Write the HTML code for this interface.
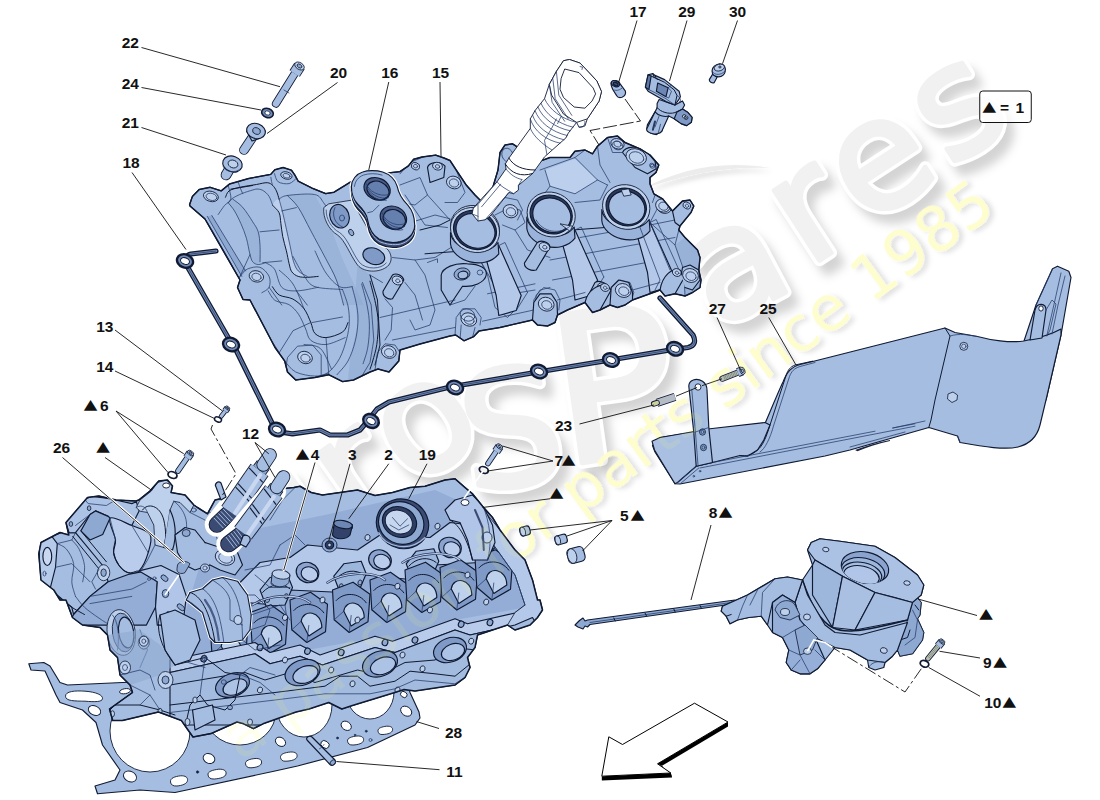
<!DOCTYPE html>
<html><head><meta charset="utf-8"><title>Cylinder head diagram</title>
<style>
html,body{margin:0;padding:0;background:#fff}
body{width:1100px;height:800px;overflow:hidden;font-family:"Liberation Sans",sans-serif}
svg{display:block}
.f{fill:#a5bde0;stroke:#101a33;stroke-width:1.15;stroke-linejoin:round;stroke-linecap:round}
.fd{fill:#8ea9d1;stroke:#101a33;stroke-width:.8;stroke-linejoin:round}
.fl{fill:#bdd0ec;stroke:#101a33;stroke-width:.8;stroke-linejoin:round}
.w{fill:#fff;stroke:#101a33;stroke-width:.9;stroke-linejoin:round}
.nd{fill:#8ea9d1;stroke:none}
.nl{fill:#bcd0ed;stroke:none}
.nk{fill:#5f7aa8;stroke:none}
.l{fill:none;stroke:#263b68;stroke-width:.75;stroke-linecap:round;stroke-linejoin:round}
.l2{fill:none;stroke:#101a33;stroke-width:1;stroke-linecap:round;stroke-linejoin:round}
.ld{fill:none;stroke:#111;stroke-width:.9}
.wl{fill:none;stroke:#fff;stroke-width:2.4;stroke-linecap:round}
.t{font:bold 15.5px "Liberation Sans",sans-serif;fill:#111}
.tr{font:13px "DejaVu Sans",sans-serif;fill:#111}
</style></head><body>
<svg width="1100" height="800" viewBox="0 0 1100 800">
<rect width="1100" height="800" fill="#fff"/>
<g id="wm_under">
<defs>
<filter id="wsh" x="-30%" y="-30%" width="160%" height="160%"><feGaussianBlur in="SourceAlpha" stdDeviation="5"/><feOffset dx="8" dy="10" result="b"/><feFlood flood-color="#000" flood-opacity=".17"/><feComposite in2="b" operator="in"/></filter>
<filter id="ysh" x="-5%" y="-30%" width="110%" height="160%"><feGaussianBlur in="SourceAlpha" stdDeviation="2.5"/><feOffset dx="3" dy="4" result="b"/><feFlood flood-color="#000" flood-opacity=".13"/><feComposite in2="b" operator="in" result="s"/><feMerge><feMergeNode in="s"/><feMergeNode in="SourceGraphic"/></feMerge></filter>
</defs>
<text x="184.3 269.1 354.9 412.7 468.8 562.2 715.4 808.0 865.5 949.5" y="648.9 589.5 529.4 488.7 491.8 465.6 329.6 267.8 226.6 167.8" rotate="-35 -35 -35 -35 -8 -8 -28 -33 -33 -33" style="font:152px 'DejaVu Sans',sans-serif;stroke-linejoin:round" filter="url(#wsh)" fill="#000" stroke="#000" stroke-width="11">euro<tspan font-size="160">S</tspan><tspan font-size="205">P</tspan>ares</text>
<text x="184.3 269.1 354.9 412.7 468.8 562.2 715.4 808.0 865.5 949.5" y="648.9 589.5 529.4 488.7 491.8 465.6 329.6 267.8 226.6 167.8" rotate="-35 -35 -35 -35 -8 -8 -28 -33 -33 -33" style="font:152px 'DejaVu Sans',sans-serif;stroke-linejoin:round" fill="#fff" stroke="#fff" stroke-width="12">euro<tspan font-size="160">S</tspan><tspan font-size="205">P</tspan>ares</text>
<text x="184.3 269.1 354.9 412.7 468.8 562.2 715.4 808.0 865.5 949.5" y="648.9 589.5 529.4 488.7 491.8 465.6 329.6 267.8 226.6 167.8" rotate="-35 -35 -35 -35 -8 -8 -28 -33 -33 -33" style="font:152px 'DejaVu Sans',sans-serif;stroke-linejoin:round" fill="#f1f1f1" stroke="#f1f1f1" stroke-width="5">euro<tspan font-size="160">S</tspan><tspan font-size="205">P</tspan>ares</text>
<path d="M640 190C680 168 725 160 770 168C728 166 685 174 640 190Z" fill="#ececec" filter="url(#ysh)"/>
<g transform="translate(240.6 762) rotate(-36)"><text x="0" y="0" filter="url(#ysh)" style="font:62px 'DejaVu Sans',sans-serif" fill="#fefdd9">a passion for parts since 1985</text></g>
</g>
<g id="headgasket">
<path d="M28.8 663.8L43.8 662.5L50 666L60 682.5L67.5 685L122.5 682.5L200 680L300 670L400 650L410 692.5L419 712L420 718L415 725L367.5 747.5L297.5 766L275 771L175 792.5L140 790L97.5 793.8L95 786L115 780L120 770L102.5 745L96 722.5L82.5 710L60 702.5L56 695L45 671L31 670Z" class="f"/>
<ellipse cx="150" cy="731" rx="40" ry="41" class="w"/>
<ellipse cx="240" cy="711" rx="36" ry="34" class="w"/>
<ellipse cx="304" cy="705" rx="28" ry="32" class="w"/>
<ellipse cx="370" cy="692" rx="24" ry="27" class="w"/>
<path d="M65.5 696.2C65.5 691.2 75 690.5 85 691.2C96.2 692 103 695 102.5 698.8C102 702 95 702 85 701.2C75 701 65.5 701.2 65.5 696.2Z" class="w"/>
<ellipse cx="94.5" cy="710.5" rx="6.5" ry="4.5" transform="rotate(25 94.5 710.5)" class="w"/>
<ellipse cx="130" cy="776.5" rx="6.8" ry="5.2" transform="rotate(25 130 776.5)" class="w"/>
<path d="M170.5 782C170 778 175 776.5 180.5 775.8C185.5 775.5 188 777.5 187.5 780.5C187 784 182 785.5 177 786C173 786.2 171 785 170.5 782Z" class="w"/>
<ellipse cx="209" cy="758.5" rx="6" ry="4.8" transform="rotate(25 209 758.5)" class="w"/>
<path d="M208 775C207.5 771.5 212.5 770 218.8 769.2C224.5 769 226.5 771 226 774C225.5 777 220.5 778.5 214.5 779C210.5 779.2 208.5 778 208 775Z" class="w"/>
<path d="M245.5 763.8C245 760.5 250 759 255 758.5C260 758.2 262 760 261.5 763C261 766 256.5 767.5 251 767.8C247.5 768 246 766.5 245.5 763.8Z" class="w"/>
<ellipse cx="197.5" cy="772" rx="1.2" ry="1.2" class="l" style="fill:#101a33;"/>
<ellipse cx="125" cy="691.2" rx="5.5" ry="2.5" transform="rotate(-10 125 691.2)" class="w"/>
<ellipse cx="280.5" cy="741.8" rx="5.5" ry="4.2" transform="rotate(35 280.5 741.8)" class="w"/>
<path d="M280.5 757.5C280 754 285 752.5 290.5 752C295.5 751.8 297.5 753.5 297 756.5C296.5 759.5 291.5 761 286 761.2C282.5 761.5 281 760 280.5 757.5Z" class="w"/>
<ellipse cx="346.2" cy="725.8" rx="5.5" ry="4.2" transform="rotate(35 346.2 725.8)" class="w"/>
<path d="M347.5 741.2C347 738 352 736.5 357 736C362 735.8 364 737.5 363.5 740.5C363 743.2 358.5 744.8 353 745C349.5 745.2 348 743.8 347.5 741.2Z" class="w"/>
<path d="M378 731.2C377.5 728 382 726.8 386.5 726.2C391 726 393 727.5 392.5 730.2C392 733 388 734.2 383 734.5C379.5 734.8 378.5 733.5 378 731.2Z" class="w"/>
<ellipse cx="406.2" cy="711.2" rx="6" ry="4.5" transform="rotate(35 406.2 711.2)" class="w"/>
<ellipse cx="403.8" cy="694.5" rx="3.5" ry="2.8" transform="rotate(35 403.8 694.5)" class="w"/>
<ellipse cx="325" cy="744.5" rx="4.5" ry="3.5" transform="rotate(35 325 744.5)" class="w"/>
<ellipse cx="337.5" cy="738" rx="1" ry="1" class="l" style="fill:#101a33;"/>
<ellipse cx="366.2" cy="731.2" rx="1" ry="1" class="l" style="fill:#101a33;"/>
<ellipse cx="370.5" cy="740" rx="1.5" ry="1.5" class="l"/>
<ellipse cx="355" cy="735" rx="0.8" ry="0.8" class="l" style="fill:#101a33;"/>
<path d="M307 740C305.5 737.5 309.5 735 312 737L335 760C337 763 332.5 767 330 764.5Z" class="f"/>
<path d="M319.5 748.8C321.5 747.5 323 746 324 744.5" class="l"/>
<ellipse cx="332.8" cy="762.5" rx="3" ry="2.2" transform="rotate(-45 332.8 762.5)" class="fd"/>
</g>
<g id="head">
<path d="M38.8 553.8L41 542.5L60 532.5L68.8 535L66 522.5L87.5 497.5L98.8 496L116 500L136 501L138.8 500L150 491L158.8 481L167.5 480L172.5 486L171 492.5L185 495L193.8 505L197.5 507.5L207.5 513.8L215 500L250 492L293.8 487.5L300 486.2L311.2 492.5L322.5 495L357.5 490L375 495.5L392.5 492.5L410 487.5L425 486.2L445 480L455 478.8L465 487.5L472.5 493.8L482.5 506.2L492.5 517.5L500 530L515 550L525 560L532.5 580L537.5 600L540 600L542.5 610L537.5 617.5L530 625L515 630L507.5 625L477.5 635L475 647.5L467.5 657.5L470 667.5L465 677.5L455 685L415 691L404 689.5L394 692.7L351.6 705.8L341.8 709L328.7 702.5L309 709L296 712L263 723.8L253.4 728.7L243.6 723.8L237 722L211 733.6L193 737L188 730L181.4 720.5L158.5 712L122.5 720.5L112.7 720.5L109.5 709L132.5 692.5L130 685L120 675L117.5 657.5L110 650L107.5 635L100 627.5L82.5 625L72.5 617.5L66 600L60 600L53.8 590L41 580Z" class="f"/>
<clipPath id="hclip"><path d="M38.8 553.8L41 542.5L60 532.5L68.8 535L66 522.5L87.5 497.5L98.8 496L116 500L136 501L138.8 500L150 491L158.8 481L167.5 480L172.5 486L171 492.5L185 495L193.8 505L197.5 507.5L207.5 513.8L215 500L250 492L293.8 487.5L300 486.2L311.2 492.5L322.5 495L357.5 490L375 495.5L392.5 492.5L410 487.5L425 486.2L445 480L455 478.8L465 487.5L472.5 493.8L482.5 506.2L492.5 517.5L500 530L515 550L525 560L532.5 580L537.5 600L540 600L542.5 610L537.5 617.5L530 625L515 630L507.5 625L477.5 635L475 647.5L467.5 657.5L470 667.5L465 677.5L455 685L415 691L404 689.5L394 692.7L351.6 705.8L341.8 709L328.7 702.5L309 709L296 712L263 723.8L253.4 728.7L243.6 723.8L237 722L211 733.6L193 737L188 730L181.4 720.5L158.5 712L122.5 720.5L112.7 720.5L109.5 709L132.5 692.5L130 685L120 675L117.5 657.5L110 650L107.5 635L100 627.5L82.5 625L72.5 617.5L66 600L60 600L53.8 590L41 580Z"/></clipPath><g clip-path="url(#hclip)">
<path d="M200 565L250 530L325 515L435 490L490 515L525 560L537.5 600L525 607.5L455 620L392.5 642.5L375 637.5L307.5 650L250 647.5L170 662.5Z" fill="#93add6"/>
<path d="M240 582.5L260 562.5L290 557.5L307.5 545L357.5 550L380 535L430 537.5L450 522.5L490 527.5L500 542.5L480 562.5L435 565L415 580L365 575L342.5 592.5L290 590L275 605L245 602.5Z" class="f" style="fill:#b4c8e9;"/>
<ellipse cx="307.5" cy="572.5" rx="11.5" ry="10" transform="rotate(20 307.5 572.5)" class="f" style="fill:#8aa4cf;"/>
<ellipse cx="380" cy="560" rx="11.5" ry="10" transform="rotate(20 380 560)" class="f" style="fill:#8aa4cf;"/>
<ellipse cx="450" cy="547.5" rx="11.5" ry="10" transform="rotate(20 450 547.5)" class="f" style="fill:#8aa4cf;"/>
<ellipse cx="309.5" cy="574" rx="8.5" ry="7" transform="rotate(20 309.5 574)" class="f" style="fill:#b9ccec;"/>
<ellipse cx="382" cy="561.5" rx="8.5" ry="7" transform="rotate(20 382 561.5)" class="f" style="fill:#b9ccec;"/>
<ellipse cx="452" cy="549" rx="8.5" ry="7" transform="rotate(20 452 549)" class="f" style="fill:#b9ccec;"/>
<path d="M260 590L270 577.5L287.5 575L292.5 587.5L285 605L266.2 606.2Z" class="f" style="fill:#9db6dc;"/>
<path d="M262.5 592.5C270 583.8 282.5 582.5 290 588.8" class="l2"/>
<ellipse cx="267.5" cy="600" rx="2" ry="2.5" transform="rotate(20 267.5 600)" class="fd"/>
<ellipse cx="286.2" cy="596.2" rx="2" ry="2.5" transform="rotate(20 286.2 596.2)" class="fd"/>
<path d="M266.2 606.2L265 615M285 605L286.2 613.8" class="l"/>
<path d="M333.8 576.2L343.8 563.8L361.2 561.2L366.2 573.8L358.8 591.2L340 592.5Z" class="f" style="fill:#9db6dc;"/>
<path d="M336.2 578.8C343.8 570 356.2 568.8 363.8 575" class="l2"/>
<ellipse cx="341.2" cy="586.2" rx="2" ry="2.5" transform="rotate(20 341.2 586.2)" class="fd"/>
<ellipse cx="360" cy="582.5" rx="2" ry="2.5" transform="rotate(20 360 582.5)" class="fd"/>
<path d="M340 592.5L338.8 601.2M358.8 591.2L360 600" class="l"/>
<path d="M406.2 563.8L416.2 551.2L433.8 548.8L438.8 561.2L431.2 578.8L412.5 580Z" class="f" style="fill:#9db6dc;"/>
<path d="M408.8 566.2C416.2 557.5 428.8 556.2 436.2 562.5" class="l2"/>
<ellipse cx="413.8" cy="573.8" rx="2" ry="2.5" transform="rotate(20 413.8 573.8)" class="fd"/>
<ellipse cx="432.5" cy="570" rx="2" ry="2.5" transform="rotate(20 432.5 570)" class="fd"/>
<path d="M412.5 580L411.2 588.8M431.2 578.8L432.5 587.5" class="l"/>
<path d="M210 625L230.8 617.2L247.5 629.2L245.8 656.8L227 667.5L212 654.8Z" class="f" style="fill:#7f9ac6;"/>
<path d="M213.8 635.5C221.2 627 236.2 627 243.8 637.8" class="l2"/>
<path d="M212 654.8L221.2 646.2L232.5 648.2" class="l"/>
<path d="M221.2 646.2C223.2 633.5 242 635.5 242 652.5L228.8 661Z" class="f" style="fill:#bdd0ec;"/>
<path d="M227 667.5L228.8 650.5" class="l"/>
<path d="M250 612.5L270.8 604.8L287.5 616.8L285.5 644.2L267 655L252 642.2Z" class="f" style="fill:#7f9ac6;"/>
<path d="M253.8 623C261.2 614.5 276.2 614.5 283.8 625.2" class="l2"/>
<path d="M252 642.2L261.2 633.8L272.5 635.8" class="l"/>
<path d="M261.2 633.8C263.2 621 281.8 623 281.8 640L268.8 648.5Z" class="f" style="fill:#bdd0ec;"/>
<path d="M267 655L268.8 638" class="l"/>
<path d="M290 600L310.5 592.2L327.5 604.2L325.5 631.8L306.8 642.5L291.8 629.8Z" class="f" style="fill:#7f9ac6;"/>
<path d="M293.8 610.5C301.2 602 316.2 602 323.8 612.8" class="l2"/>
<path d="M291.8 629.8L301.2 621.2L312.5 623.2" class="l"/>
<path d="M301.2 621.2C303 608.5 321.8 610.5 321.8 627.5L308.8 636Z" class="f" style="fill:#bdd0ec;"/>
<path d="M306.8 642.5L308.8 625.5" class="l"/>
<path d="M332.5 590L353 582.2L370 594.2L368 621.8L349.2 632.5L334.2 619.8Z" class="f" style="fill:#7f9ac6;"/>
<path d="M336.2 600.5C343.8 592 358.8 592 366.2 602.8" class="l2"/>
<path d="M334.2 619.8L343.8 611.2L355 613.2" class="l"/>
<path d="M343.8 611.2C345.5 598.5 364.2 600.5 364.2 617.5L351.2 626Z" class="f" style="fill:#bdd0ec;"/>
<path d="M349.2 632.5L351.2 615.5" class="l"/>
<path d="M370 580L390.5 572.2L407.5 584.2L405.5 611.8L386.8 622.5L371.8 609.8Z" class="f" style="fill:#7f9ac6;"/>
<path d="M373.8 590.5C381.2 582 396.2 582 403.8 592.8" class="l2"/>
<path d="M371.8 609.8L381.2 601.2L392.5 603.2" class="l"/>
<path d="M381.2 601.2C383 588.5 401.8 590.5 401.8 607.5L388.8 616Z" class="f" style="fill:#bdd0ec;"/>
<path d="M386.8 622.5L388.8 605.5" class="l"/>
<path d="M405 570L425.5 562.2L442.5 574.2L440.5 601.8L421.8 612.5L406.8 599.8Z" class="f" style="fill:#7f9ac6;"/>
<path d="M408.8 580.5C416.2 572 431.2 572 438.8 582.8" class="l2"/>
<path d="M406.8 599.8L416.2 591.2L427.5 593.2" class="l"/>
<path d="M416.2 591.2C418 578.5 436.8 580.5 436.8 597.5L423.8 606Z" class="f" style="fill:#bdd0ec;"/>
<path d="M421.8 612.5L423.8 595.5" class="l"/>
<path d="M440 567.5L460.5 559.8L477.5 571.8L475.5 599.2L456.8 610L441.8 597.2Z" class="f" style="fill:#7f9ac6;"/>
<path d="M443.8 578C451.2 569.5 466.2 569.5 473.8 580.2" class="l2"/>
<path d="M441.8 597.2L451.2 588.8L462.5 590.8" class="l"/>
<path d="M451.2 588.8C453 576 471.8 578 471.8 595L458.8 603.5Z" class="f" style="fill:#bdd0ec;"/>
<path d="M456.8 610L458.8 593" class="l"/>
<path d="M475 557.5L495.5 549.8L512.5 561.8L510.5 589.2L491.8 600L476.8 587.2Z" class="f" style="fill:#7f9ac6;"/>
<path d="M478.8 568C486.2 559.5 501.2 559.5 508.8 570.2" class="l2"/>
<path d="M476.8 587.2L486.2 578.8L497.5 580.8" class="l"/>
<path d="M486.2 578.8C488 566 506.8 568 506.8 585L493.8 593.5Z" class="f" style="fill:#bdd0ec;"/>
<path d="M491.8 600L493.8 583" class="l"/>
<path d="M252.5 605C267.5 595 297.5 592.5 310 602.5" class="l2" style="stroke:#2a395f;stroke-width:2.4;"/>
<path d="M252.5 605C267.5 595 297.5 592.5 310 602.5" class="l" style="stroke:#b9ccec;stroke-width:1.1;"/>
<path d="M327.5 582.5C342.5 572.5 372.5 570 385 580" class="l2" style="stroke:#2a395f;stroke-width:2.4;"/>
<path d="M327.5 582.5C342.5 572.5 372.5 570 385 580" class="l" style="stroke:#b9ccec;stroke-width:1.1;"/>
<path d="M402.5 562.5C417.5 552.5 447.5 550 460 560" class="l2" style="stroke:#2a395f;stroke-width:2.4;"/>
<path d="M402.5 562.5C417.5 552.5 447.5 550 460 560" class="l" style="stroke:#b9ccec;stroke-width:1.1;"/>
<path d="M170 660L255 642.5L270 652.5L300 645L320 655L375 636.2L392.5 641.2L455 618.8L467.5 623.8L515 613L525 605.5L532.5 617.5L515 625L470 635L455 630L395 652.5L375 647.5L322.5 665L300 656.2L270 663.8L255 653.8L170 672.5Z" class="f" style="fill:#b8cbea;"/>
<ellipse cx="203.8" cy="658.8" rx="2.8" ry="3.2" transform="rotate(20 203.8 658.8)" class="f" style="fill:#8ea9d1;"/>
<ellipse cx="260" cy="647.5" rx="2.8" ry="3.2" transform="rotate(20 260 647.5)" class="f" style="fill:#8ea9d1;"/>
<ellipse cx="307.5" cy="651.2" rx="2.8" ry="3.2" transform="rotate(20 307.5 651.2)" class="f" style="fill:#8ea9d1;"/>
<ellipse cx="341.2" cy="652.5" rx="2.8" ry="3.2" transform="rotate(20 341.2 652.5)" class="f" style="fill:#8ea9d1;"/>
<ellipse cx="385" cy="642.5" rx="2.8" ry="3.2" transform="rotate(20 385 642.5)" class="f" style="fill:#8ea9d1;"/>
<ellipse cx="415" cy="640" rx="2.8" ry="3.2" transform="rotate(20 415 640)" class="f" style="fill:#8ea9d1;"/>
<ellipse cx="461.2" cy="624.2" rx="2.8" ry="3.2" transform="rotate(20 461.2 624.2)" class="f" style="fill:#8ea9d1;"/>
<ellipse cx="490" cy="622.5" rx="2.8" ry="3.2" transform="rotate(20 490 622.5)" class="f" style="fill:#8ea9d1;"/>
<ellipse cx="521.2" cy="612.5" rx="2.8" ry="3.2" transform="rotate(20 521.2 612.5)" class="f" style="fill:#8ea9d1;"/>
<ellipse cx="322.5" cy="600" rx="2.5" ry="3" transform="rotate(20 322.5 600)" class="fl"/>
<ellipse cx="397.5" cy="586.2" rx="2.5" ry="3" transform="rotate(20 397.5 586.2)" class="fl"/>
<ellipse cx="467.5" cy="575" rx="2.5" ry="3" transform="rotate(20 467.5 575)" class="fl"/>
<ellipse cx="486.2" cy="602" rx="2.5" ry="3" transform="rotate(20 486.2 602)" class="fl"/>
<ellipse cx="437.5" cy="526.2" rx="2.5" ry="3" transform="rotate(20 437.5 526.2)" class="fl"/>
<ellipse cx="350" cy="527.5" rx="2.5" ry="3" transform="rotate(20 350 527.5)" class="fl"/>
<ellipse cx="367.5" cy="537.5" rx="2.5" ry="3" transform="rotate(20 367.5 537.5)" class="fl"/>
<ellipse cx="500" cy="543.8" rx="2.5" ry="3" transform="rotate(20 500 543.8)" class="fl"/>
<ellipse cx="285" cy="617.5" rx="2.5" ry="3" transform="rotate(20 285 617.5)" class="fl"/>
<ellipse cx="357.5" cy="620" rx="2.5" ry="3" transform="rotate(20 357.5 620)" class="fl"/>
<ellipse cx="430" cy="610" rx="2.5" ry="3" transform="rotate(20 430 610)" class="fl"/>
<path d="M487.5 515L525 560L540 600L542.5 610L537.5 617.5L530 625L515 630L507.5 625L515 612.5L525 605L515 575L490 540Z" class="fl" style="fill:#b4c8e9;"/>
<path d="M490 540L515 575L525 605" class="l"/>
<path d="M445 510L455 500L472.5 495L482.5 505L492.5 525L495 542.5L487.5 560L472.5 560L467.5 540L460 522.5L450 520Z" class="f" style="fill:#b0c5e7;"/>
<path d="M450 520C460 525 467.5 540 472.5 560" class="l2"/>
<path d="M482.5 505C490 522.5 492.5 542.5 487.5 560" class="l"/>
<ellipse cx="487" cy="537.5" rx="5" ry="5.5" class="fl"/>
<ellipse cx="465" cy="502.5" rx="4" ry="3" class="w"/>
<path d="M475 510L482.5 527.5L483.8 550" class="l" style="stroke:#3b4b73;stroke-width:2;"/>
<ellipse cx="402.5" cy="523.8" rx="26.5" ry="24.5" transform="rotate(25 402.5 523.8)" class="f" style="fill:#3b4b73;"/>
<ellipse cx="401.2" cy="523" rx="23" ry="21" transform="rotate(25 401.2 523)" class="f" style="fill:#8ea9d1;"/>
<ellipse cx="399.5" cy="522" rx="17.5" ry="15" transform="rotate(25 399.5 522)" class="f" style="fill:#2e3d63;"/>
<ellipse cx="398.8" cy="522" rx="14" ry="11.5" transform="rotate(25 398.8 522)" class="w" style="fill:#c6d6ee;"/>
<path d="M392.5 517.5L400 526.2L407.5 518.8" class="l"/>
<path d="M390 525L398.8 530L408.8 525" class="l"/>
<path d="M378.8 532.5C385 547.5 410 552.5 425 537.5" class="l" style="stroke:#a5bde0;stroke-width:1.2;"/>
<path d="M333.8 526.2C335 521.2 347.5 520 352.5 525L350 535C346.2 540 335 540 332.5 535Z" class="f" style="fill:#33426a;"/>
<ellipse cx="343" cy="524.5" rx="9.5" ry="4" transform="rotate(10 343 524.5)" class="f" style="fill:#6d87b5;"/>
<ellipse cx="329.5" cy="545" rx="7.5" ry="7" class="fd"/>
<ellipse cx="329.5" cy="545" rx="4.2" ry="4" class="f" style="fill:#2e3d63;"/>
<ellipse cx="329.5" cy="545" rx="1.8" ry="1.8" class="fl"/>
<path d="M272 575C273.8 570 285 570 287.5 575L286.2 583.8C282.5 588.8 273.8 587.5 271.2 583.8Z" class="fd"/>
<ellipse cx="280" cy="574.5" rx="8" ry="3.5" transform="rotate(10 280 574.5)" class="fl"/>
<path d="M170 672.5L255 653.8L270 663.8L300 656.2L322.5 665L375 647.5L395 652.5L455 630L470 635L515 625L532.5 617.5L540 630L500 725L170 725Z" class="f" style="fill:#a2bbdf;"/>
<path d="M170 685L245 672.5L265 680L290 672.5L315 682.5L357.5 670L380 675L405 662.5L435 660L455 647.5L475 650L500 640L515 635" class="l2"/>
<ellipse cx="302.5" cy="672.5" rx="18" ry="12.5" transform="rotate(-20 302.5 672.5)" class="f" style="fill:#7f9ac6;"/>
<ellipse cx="305.5" cy="674.5" rx="13" ry="8.2" transform="rotate(-20 305.5 674.5)" class="f" style="fill:#adc3e6;"/>
<ellipse cx="380" cy="663.8" rx="18" ry="12.5" transform="rotate(-20 380 663.8)" class="f" style="fill:#7f9ac6;"/>
<ellipse cx="383" cy="665.8" rx="13" ry="8.2" transform="rotate(-20 383 665.8)" class="f" style="fill:#adc3e6;"/>
<ellipse cx="450" cy="650" rx="17" ry="12" transform="rotate(-20 450 650)" class="f" style="fill:#7f9ac6;"/>
<ellipse cx="453" cy="652" rx="12" ry="8" transform="rotate(-20 453 652)" class="f" style="fill:#adc3e6;"/>
<ellipse cx="232.5" cy="685" rx="17.5" ry="11.5" transform="rotate(-20 232.5 685)" class="f" style="fill:#7f9ac6;"/>
<ellipse cx="235" cy="687" rx="12.5" ry="7.5" transform="rotate(-20 235 687)" class="f" style="fill:#adc3e6;"/>
<ellipse cx="331.2" cy="670" rx="2.5" ry="3" transform="rotate(20 331.2 670)" class="fl"/>
<ellipse cx="352.5" cy="683.8" rx="2.5" ry="3" transform="rotate(20 352.5 683.8)" class="fl"/>
<ellipse cx="402.5" cy="655" rx="2.5" ry="3" transform="rotate(20 402.5 655)" class="fl"/>
<ellipse cx="422.5" cy="668.8" rx="2.5" ry="3" transform="rotate(20 422.5 668.8)" class="fl"/>
<ellipse cx="471.2" cy="641.2" rx="2.5" ry="3" transform="rotate(20 471.2 641.2)" class="fl"/>
<ellipse cx="397.5" cy="690" rx="2.5" ry="3" transform="rotate(20 397.5 690)" class="fl"/>
<ellipse cx="285" cy="660" rx="2.5" ry="3" transform="rotate(20 285 660)" class="fl"/>
<ellipse cx="260" cy="690" rx="2.5" ry="3" transform="rotate(20 260 690)" class="fl"/>
<ellipse cx="490" cy="635" rx="2.5" ry="3" transform="rotate(20 490 635)" class="fl"/>
<path d="M170 705L275 692.5L325 686.2L340 676.2L357.5 676.2L370 686.2L395 681.2L410 671.2L435 673.8L455 676.2L475 660L507.5 650" class="l2"/>
<path d="M170 712.5L275 700L325 693.8L370 693.8L395 688.8L415 680L455 683.8L480 667.5L507.5 657.5" class="l"/>
<path d="M40 581.8L39.1 545.5L41.8 540L65.5 530.9L69.1 532.7L75.5 532.7L102.7 565.5L108.2 581.8L90 596.4L73.6 614.5L71.8 607.3L50 589.1Z" class="f"/>
<path d="M40 581.8L39.1 545.5L41.8 540L51.8 536.4L57.3 543.6L55.5 567.3L50 589.1Z" class="f" style="fill:#b6caea;"/>
<ellipse cx="47.3" cy="556.4" rx="4.4" ry="9.1" class="f" style="fill:#c9d8f0;"/>
<ellipse cx="44.5" cy="573.6" rx="1.5" ry="2.4" class="l"/>
<path d="M51.8 536.4L65.5 530.9M57.3 543.6L71.8 540L75.5 532.7" class="l"/>
<path d="M55.5 567.3L71.8 563.6L90 581.8" class="l"/>
<path d="M57.3 543.6C58.8 544.5 63.7 545.8 66.4 549.1C69.1 552.4 72.7 558.2 73.6 563.6C74.5 569 71.5 576.3 71.8 581.8C72.1 587.3 74.9 594 75.5 596.4" class="l"/>
<path d="M71.8 540C73 541.5 77 544.9 79.1 549.1C81.2 553.4 83.9 560 84.5 565.5C85.1 571 83 579.1 82.7 581.8" class="l"/>
<path d="M65.5 521.8L84.5 499.1L91.8 496.4L106.4 498.2L115.5 500L131.8 503.6L136.4 501.8L139.1 510.9L131.8 525.5L110 518.2L108.2 516.4L95.5 510.9L90 514.5L75.5 532.7L69.1 532.7Z" class="f" style="fill:#adc3e6;"/>
<path d="M90 514.5L95.5 510.9L108.2 516.4L110 518.2L102.7 534.5L90 540L80.9 530.9Z" class="f" style="fill:#8ea9d1;"/>
<ellipse cx="89.1" cy="508.2" rx="1.8" ry="2.4" class="fd"/>
<ellipse cx="70.9" cy="524" rx="1.8" ry="2.4" class="fd"/>
<ellipse cx="133.6" cy="533.6" rx="2.2" ry="1.6" transform="rotate(30 133.6 533.6)" class="fd"/>
<path d="M72.7 536.4L99.1 569.1M80.9 530.9L106.4 561.8" class="l2"/>
<path d="M84.5 499.1L88.2 503.6L106.4 505.5L115.5 500" class="l"/>
<path d="M75.5 525.5L90 514.5" class="l"/>
<path d="M110 518.2C112.7 515.8 125.1 522.8 131.8 525.5C138.5 528.2 147.3 530 150 534.5C152.7 539 150 546.6 148.2 552.7C146.4 558.8 142.4 567.6 139.1 570.9C135.8 574.2 131.5 573.6 128.2 572.7C124.9 571.8 121.5 568.8 119.1 565.5C116.7 562.2 114.2 557 113.6 552.7C113 548.5 116.1 545.8 115.5 540C114.9 534.2 107.3 520.6 110 518.2Z" class="f" style="fill:#b9ccec;"/>
<path d="M115.5 540C115.2 542.1 113 548.5 113.6 552.7C114.2 557 116.7 562.2 119.1 565.5C121.5 568.8 125.2 571.8 128.2 572.7C131.2 573.6 135.8 571.2 137.3 570.9" class="l2"/>
<path d="M110 518.2L115.5 540" class="l"/>
<path d="M131.8 525.5L148.2 552.7" class="l"/>
<ellipse cx="103.6" cy="572.7" rx="6.2" ry="8" class="fl"/>
<ellipse cx="103.6" cy="572.7" rx="2.7" ry="3.8" class="fd"/>
<path d="M99.1 569.1L91.8 581.8L95.5 589.1M108.2 581.8L124.5 578.2" class="l"/>
<path d="M73.6 614.5L90 596.4L108.2 581.8L128.2 574.5L146.4 570.9L157.3 581.8L155.5 607.3L146.4 625.1L68.2 625.1Z" class="f" style="fill:#93add6;"/>
<path d="M90 596.4L131.8 589.1L146.4 581.8" class="l"/>
<path d="M90 603.6L131.8 596.4" class="l"/>
<path d="M50 589.1C52.1 590.9 59.1 597 62.7 600C66.3 603 68.2 604.9 71.8 607.3C75.4 609.7 82.4 613.3 84.5 614.5" class="l2"/>
<path d="M75.5 596.4C77 598.2 80.6 603.7 84.5 607.3C88.4 610.9 94.8 615.2 99.1 618.2C103.3 621.2 108.2 624 110 625.1" class="l"/>
<path d="M139.1 570.9L160.9 565.5L179.1 574.5L186.4 596.4L182.7 625.1L157.3 625.1L155.5 607.3L157.3 581.8Z" class="f" style="fill:#b0c5e7;"/>
<ellipse cx="149.1" cy="579.1" rx="1.6" ry="1.3" class="l"/>
<ellipse cx="154.5" cy="578.2" rx="1.6" ry="1.3" class="l"/>
<ellipse cx="164.5" cy="578.2" rx="4" ry="2.5" transform="rotate(40 164.5 578.2)" class="fd"/>
<ellipse cx="165.5" cy="593.6" rx="3.3" ry="4" class="fd"/>
<ellipse cx="168.2" cy="612.7" rx="1.6" ry="1.3" class="l"/>
<ellipse cx="173.6" cy="612.4" rx="1.6" ry="1.3" class="l"/>
<ellipse cx="180.9" cy="607.3" rx="4.4" ry="2.4" transform="rotate(40 180.9 607.3)" class="fd"/>
<ellipse cx="121.2" cy="632.5" rx="14" ry="23" transform="rotate(-8 121.2 632.5)" class="fl"/>
<ellipse cx="123" cy="632.5" rx="10.5" ry="19.5" transform="rotate(-8 123 632.5)" class="fd"/>
<ellipse cx="126.2" cy="632.5" rx="7.5" ry="15.5" transform="rotate(-8 126.2 632.5)" class="f" style="fill:#a5bde0;"/>
<path d="M112.5 615C117.5 620 120 635 117.5 650" class="l"/>
<ellipse cx="143.8" cy="642.5" rx="5.5" ry="6.5" class="fl"/>
<ellipse cx="143.8" cy="642.5" rx="2.5" ry="3" class="l"/>
<path d="M136.2 507.5L140 500L151.2 491.2L157.5 482.5L166.2 480L172.5 485L171.2 492.5L185 495L193.8 505L190 512.5L180 502.5L173.8 501.2L170 510L166.2 535L163.8 547.5L155 545L153.8 525L147.5 512.5L140 511.2Z" class="fl"/>
<path d="M142.5 510C147.5 502.5 160 505 163.8 520C166.2 530 166.2 540 163.8 547.5" class="l2"/>
<path d="M136.2 507.5C140 505 145 505 147.5 512.5" class="l"/>
<ellipse cx="166.2" cy="485.5" rx="3.5" ry="2.5" class="w"/>
<path d="M170 510C175 520 177.5 535 172.5 550L163.8 547.5" class="f"/>
<path d="M173.8 501.2C182.5 507.5 190 520 185 535L177.5 532.5" class="l"/>
<path d="M175 535L185 527.5L195 530L205 542.5L215 552.5L210 565L195 570L185 565L177.5 552.5Z" class="f"/>
<ellipse cx="186.2" cy="533" rx="4" ry="3.5" class="fd"/>
<ellipse cx="193.8" cy="510" rx="2.5" ry="2" class="l"/>
<ellipse cx="205" cy="568" rx="4.5" ry="4" class="fl"/>
<ellipse cx="205" cy="568" rx="2.2" ry="2" class="l"/>
<path d="M205 542.5L220 547.5L237.5 552.5L242.5 565L235 575L220 570L210 565" class="f"/>
<ellipse cx="225" cy="557.5" rx="10" ry="7.5" transform="rotate(20 225 557.5)" class="fl"/>
<ellipse cx="225.5" cy="558" rx="7" ry="5" transform="rotate(20 225.5 558)" class="l"/>
<path d="M177.5 565C178.8 561.2 186.2 560 190 563.8L185 572.5C181.2 575 176.2 572.5 177 568.8Z" class="fd"/>
<path d="M186.2 600L190 592.5L202.5 588.8L212.5 580L222.5 577.5L237.5 581.2L247.5 595L251.2 615L250 630L242.5 640L230 642.5L215 642.5L210 637.5L202.5 612.5L190 602.5Z" fill="none" stroke="#fff" stroke-width="3" stroke-linejoin="round"/>
<path d="M186.2 600L190 592.5L202.5 588.8L212.5 580L222.5 577.5L237.5 581.2L247.5 595L251.2 615L250 630L242.5 640L230 642.5L215 642.5L210 637.5L202.5 612.5L190 602.5Z" class="f"/>
<path d="M190 592.5C200 595 210 610 215 642.5" class="l2"/>
<path d="M202.5 588.8C212.5 595 220 610 223.8 642.5" class="l"/>
<path d="M205 600C212.5 610 217.5 625 218.8 640" class="l" style="stroke:#4a5d8a;stroke-width:2.2;"/>
<path d="M222.5 577.5C235 587.5 242.5 605 242.5 640" class="l"/>
<path d="M212.5 580C220 585 227.5 590 230 600L230 620L242.5 625" class="l"/>
<ellipse cx="238" cy="620" rx="4" ry="4.5" class="fl"/>
<path d="M186.2 600C192.5 602.5 200 610 202.5 612.5" class="l"/>
<path d="M155 545L147.5 560L140 572.5" class="l"/>
<path d="M190 512.5L205 520L215 532.5L220 547.5" class="l"/>
<path d="M193.8 505L210 512.5L220 520" class="l"/>
<path d="M250 630L265 625L270 610L255 595L247.5 595" class="l"/>
<path d="M251.2 615L280 605L290 620" class="l"/>
<path d="M242.5 640L255 650L280 645" class="l"/>
<path d="M170 640L180 660L205 667.5" class="l"/>
<path d="M140 630L147.5 650L140 667.5" class="l"/>
<ellipse cx="143.8" cy="642.5" rx="5.5" ry="6.5" class="fl"/>
<ellipse cx="143.8" cy="642.5" rx="2.5" ry="3" class="l"/>
<path d="M270 520L282.5 500L297.5 485L305 490" class="l"/>
<path d="M280 545L295 535L305 545" class="l"/>
<path d="M245 570L270 565L280 545" class="l"/>
<path d="M255 575L270 587.5L290 587.5" class="l"/>
<path d="M272 575C273.8 568.8 287.5 568.8 290 575L288.8 582.5C285 588.8 273.8 587.5 271.2 582.5Z" class="fd"/>
<ellipse cx="281" cy="574.5" rx="9" ry="4.5" transform="rotate(10 281 574.5)" class="fl"/>
<path d="M107.5 635L110 650L117.5 657.5L120 675L130 685L160 675L175 665L160 645L140 630Z" class="nd" style="opacity:.6;"/>
<path d="M160 615L175 610L195 620L200 640L190 660L175 665L165 650Z" class="f"/>
<path d="M160 615C155 630 162.5 650 175 665" class="l2"/>
<ellipse cx="165.5" cy="680" rx="7.5" ry="8.5" class="fl"/>
<ellipse cx="165.5" cy="680" rx="3.5" ry="4" class="fd"/>
<ellipse cx="125" cy="667.5" rx="5.5" ry="6.5" class="fl"/>
<ellipse cx="125" cy="667.5" rx="2.5" ry="3" class="l"/>
<ellipse cx="143.8" cy="641.2" rx="4.5" ry="5" class="fl"/>
<ellipse cx="143.8" cy="641.2" rx="2" ry="2.2" class="l"/>
<path d="M110 710L115 705L140 705L160 710L175 715" class="l2"/>
<ellipse cx="112.5" cy="713.8" rx="2" ry="3" class="fl"/>
<ellipse cx="160" cy="711.2" rx="2" ry="3" class="fl"/>
<path d="M175 665L205 657.5L225 672.5L240 675L235 700L225 710L207.5 705L200 695L190 705L185 727.5" class="l2"/>
<path d="M205 657.5L200 695" class="l"/>
<ellipse cx="204.5" cy="658" rx="2.5" ry="3" class="l"/>
<ellipse cx="223.8" cy="682" rx="2.5" ry="2.2" class="l"/>
<ellipse cx="195" cy="700" rx="2.2" ry="3" class="fl"/>
<ellipse cx="187.5" cy="722" rx="2.5" ry="3.5" class="fl"/>
<ellipse cx="230" cy="707.5" rx="2.5" ry="2.2" class="fd"/>
<path d="M192.5 710L212.5 705L215 720L195 730Z" class="f"/>
<path d="M235 672.5L260 682.5L275 695" class="l"/>
<path d="M240 675L250 667.5L275 675" class="l"/>
<ellipse cx="250" cy="722" rx="2.5" ry="3" class="fl"/>
<path d="M120 675L140 670L150 675L155 690" class="l"/>
<path d="M130 685L150 695L160 710" class="l"/>
<path d="M140 705L150 695" class="l"/>
</g>
<path d="M38.8 553.8L41 542.5L60 532.5L68.8 535L66 522.5L87.5 497.5L98.8 496L116 500L136 501L138.8 500L150 491L158.8 481L167.5 480L172.5 486L171 492.5L185 495L193.8 505L197.5 507.5L207.5 513.8L215 500L250 492L293.8 487.5L300 486.2L311.2 492.5L322.5 495L357.5 490L375 495.5L392.5 492.5L410 487.5L425 486.2L445 480L455 478.8L465 487.5L472.5 493.8L482.5 506.2L492.5 517.5L500 530L515 550L525 560L532.5 580L537.5 600L540 600L542.5 610L537.5 617.5L530 625L515 630L507.5 625L477.5 635L475 647.5L467.5 657.5L470 667.5L465 677.5L455 685L415 691L404 689.5L394 692.7L351.6 705.8L341.8 709L328.7 702.5L309 709L296 712L263 723.8L253.4 728.7L243.6 723.8L237 722L211 733.6L193 737L188 730L181.4 720.5L158.5 712L122.5 720.5L112.7 720.5L109.5 709L132.5 692.5L130 685L120 675L117.5 657.5L110 650L107.5 635L100 627.5L82.5 625L72.5 617.5L66 600L60 600L53.8 590L41 580Z" class="l2" style="stroke-width:1.5;"/>
</g>
<g id="covergasket">
<path d="M216 251L191 254C186 255 184 260 187 266L229 339L236 350L273 425C275 430 279 432 283 432.5L292.5 433.8L320 430L330 435L347.5 435L360 430L366 423L377 409L389 402L450 387L535 372.5L607.5 360.5L670 350L688 347.5C695 346 696 341 693 335L660 298" fill="none" stroke="#101a33" stroke-width="5.2" stroke-linejoin="round" stroke-linecap="round"/>
<path d="M216 251L191 254C186 255 184 260 187 266L229 339L236 350L273 425C275 430 279 432 283 432.5L292.5 433.8L320 430L330 435L347.5 435L360 430L366 423L377 409L389 402L450 387L535 372.5L607.5 360.5L670 350L688 347.5C695 346 696 341 693 335L660 298" fill="none" stroke="#7089b5" stroke-width="2.6" stroke-linejoin="round" stroke-linecap="round"/>
<path d="M216 251L191 254C186 255 184 260 187 266L229 339L236 350L273 425C275 430 279 432 283 432.5L292.5 433.8L320 430L330 435L347.5 435L360 430L366 423L377 409L389 402L450 387L535 372.5L607.5 360.5L670 350L688 347.5C695 346 696 341 693 335L660 298" fill="none" stroke="#2a395f" stroke-width=".7" stroke-linejoin="round"/>
<ellipse cx="185" cy="261" rx="8.2" ry="6.6" transform="rotate(20 185 261)" fill="#7089b5" stroke="#101a33" stroke-width="2.4"/>
<ellipse cx="185" cy="261" rx="4.6" ry="3.2" transform="rotate(20 185 261)" fill="#fff" stroke="#101a33" stroke-width="1"/>
<ellipse cx="231" cy="344.5" rx="8.2" ry="6.6" transform="rotate(20 231 344.5)" fill="#7089b5" stroke="#101a33" stroke-width="2.4"/>
<ellipse cx="231" cy="344.5" rx="4.6" ry="3.2" transform="rotate(20 231 344.5)" fill="#fff" stroke="#101a33" stroke-width="1"/>
<ellipse cx="277" cy="429.5" rx="8.2" ry="6.6" transform="rotate(20 277 429.5)" fill="#7089b5" stroke="#101a33" stroke-width="2.4"/>
<ellipse cx="277" cy="429.5" rx="4.6" ry="3.2" transform="rotate(20 277 429.5)" fill="#fff" stroke="#101a33" stroke-width="1"/>
<ellipse cx="371" cy="421" rx="8.2" ry="6.6" transform="rotate(30 371 421)" fill="#7089b5" stroke="#101a33" stroke-width="2.4"/>
<ellipse cx="371" cy="421" rx="4.6" ry="3.2" transform="rotate(30 371 421)" fill="#fff" stroke="#101a33" stroke-width="1"/>
<ellipse cx="455" cy="387.5" rx="8.2" ry="6.6" transform="rotate(20 455 387.5)" fill="#7089b5" stroke="#101a33" stroke-width="2.4"/>
<ellipse cx="455" cy="387.5" rx="4.6" ry="3.2" transform="rotate(20 455 387.5)" fill="#fff" stroke="#101a33" stroke-width="1"/>
<ellipse cx="539" cy="371.5" rx="8.2" ry="6.6" transform="rotate(20 539 371.5)" fill="#7089b5" stroke="#101a33" stroke-width="2.4"/>
<ellipse cx="539" cy="371.5" rx="4.6" ry="3.2" transform="rotate(20 539 371.5)" fill="#fff" stroke="#101a33" stroke-width="1"/>
<ellipse cx="611" cy="360" rx="8.2" ry="6.6" transform="rotate(20 611 360)" fill="#7089b5" stroke="#101a33" stroke-width="2.4"/>
<ellipse cx="611" cy="360" rx="4.6" ry="3.2" transform="rotate(20 611 360)" fill="#fff" stroke="#101a33" stroke-width="1"/>
<ellipse cx="675" cy="348.8" rx="8.2" ry="6.6" transform="rotate(20 675 348.8)" fill="#7089b5" stroke="#101a33" stroke-width="2.4"/>
<ellipse cx="675" cy="348.8" rx="4.6" ry="3.2" transform="rotate(20 675 348.8)" fill="#fff" stroke="#101a33" stroke-width="1"/>
</g>
<g id="cover">
<path d="M189.6 204.6L192.4 196.4L199.2 189.5L210.2 187.3L221.2 190.9L229.5 184L248.7 178.5L270.7 174.4L274.9 169.7L283.1 167.5L291.4 170.2L294.9 175.2L298.2 181.2L312 188.1L325.7 193.6L334 192.2L345 185.4L360 176L400 171.6L408.2 166.1L413.7 159.2L422 157L435.7 155.1L444 158L450 160.5L456.2 170L466.2 185L475 195L481 201L492 190L498 170L500 152.5L505 145L512.5 143.8L516.2 146.2L525 160L540 161.2L550 157.5L570 157.5L575 151.2L585 150L592.5 153.8L597.5 146.2L607.5 137.5L617.5 136L625 142.5L640 148.8L650 155L658.8 165L656 172.5L650 177.5L650 183.8L653.8 193.8L662.5 198.8L672.5 211L682.5 201L690 200L693.8 206L691 212.5L680 226L678.8 230L685 237.5L697.5 250L700 257.5L698.8 270L701 280L700 287.5L692.5 292.5L685 296L675 293.8L665 296L660 290L657.5 291L632.5 300L625 305L617.5 307.5L610 305L600 310L592.5 312.5L585 302.5L567.5 310L557.5 315L555 322.5L547.5 326L537.5 325L532.5 320L500 327.5L479 331L473.6 336.7L464 340.8L455.7 335L450 336L420 344L400 350L398.8 361L389 372L378 369L370 372L353.5 380L342.5 381.6L328.7 374.7L315 377.5L295.7 380L287.5 372L284.7 361L275 347.5L250 300L243 299.5L237.5 287.5L240 280L205 219L190 206Z" class="f"/>
<clipPath id="cclip"><path d="M189.6 204.6L192.4 196.4L199.2 189.5L210.2 187.3L221.2 190.9L229.5 184L248.7 178.5L270.7 174.4L274.9 169.7L283.1 167.5L291.4 170.2L294.9 175.2L298.2 181.2L312 188.1L325.7 193.6L334 192.2L345 185.4L360 176L400 171.6L408.2 166.1L413.7 159.2L422 157L435.7 155.1L444 158L450 160.5L456.2 170L466.2 185L475 195L481 201L492 190L498 170L500 152.5L505 145L512.5 143.8L516.2 146.2L525 160L540 161.2L550 157.5L570 157.5L575 151.2L585 150L592.5 153.8L597.5 146.2L607.5 137.5L617.5 136L625 142.5L640 148.8L650 155L658.8 165L656 172.5L650 177.5L650 183.8L653.8 193.8L662.5 198.8L672.5 211L682.5 201L690 200L693.8 206L691 212.5L680 226L678.8 230L685 237.5L697.5 250L700 257.5L698.8 270L701 280L700 287.5L692.5 292.5L685 296L675 293.8L665 296L660 290L657.5 291L632.5 300L625 305L617.5 307.5L610 305L600 310L592.5 312.5L585 302.5L567.5 310L557.5 315L555 322.5L547.5 326L537.5 325L532.5 320L500 327.5L479 331L473.6 336.7L464 340.8L455.7 335L450 336L420 344L400 350L398.8 361L389 372L378 369L370 372L353.5 380L342.5 381.6L328.7 374.7L315 377.5L295.7 380L287.5 372L284.7 361L275 347.5L250 300L243 299.5L237.5 287.5L240 280L205 219L190 206Z"/></clipPath><g clip-path="url(#cclip)">
<path d="M207.3 216.4L211.8 215.5L245.5 270.9L241.8 276.4Z" class="nd"/>
<path d="M272.7 205.5C272.7 207.8 277.7 209.7 279.1 212.7C280.5 215.7 280.3 219.6 280.9 223.6C281.5 227.6 281.8 231.8 282.7 236.4C283.6 241 285.3 246.4 286.4 250.9C287.5 255.4 288.2 260.1 289.1 263.6C290 267.1 290.3 269.7 291.8 271.8C293.3 273.9 295.6 275.5 298.2 276.4C300.8 277.3 305.8 277.3 307.3 277.3C308.8 277.3 308.8 277.5 307.3 276.4C305.8 275.3 300.5 273.3 298.2 270.9C295.9 268.5 295 266 293.6 261.8C292.2 257.6 291.2 250.9 290 245.5C288.8 240.1 287.6 234.6 286.4 229.1C285.2 223.6 283.9 217.7 282.7 212.7C281.5 207.7 280.8 200.3 279.1 199.1C277.4 197.9 272.7 203.2 272.7 205.5Z" class="nl"/>
<path d="M287.3 195.5L298.2 207.3L310.9 230.9L325.5 258.2L336.4 280L343.6 305.1L363.6 305.1L343.6 261.8L325.5 214.5L314.5 194.5Z" class="nd" style="opacity:.5;"/>
<path d="M228.2 202.7C228.5 204.7 232.4 207.4 234.5 210.9C236.6 214.4 238.9 219.1 240.9 223.6C242.9 228.1 244.9 233 246.4 238.2C247.9 243.3 248.9 250.6 250 254.5C251.1 258.4 251 260.6 252.7 261.8C254.4 263 258.8 264.5 260 261.8C261.2 259.1 260.3 250.5 260 245.5C259.7 240.5 259.4 235.8 258.2 231.8C257 227.9 255.3 225.9 252.7 221.8C250.1 217.7 246 211.1 242.7 207.3C239.4 203.5 235.1 199.9 232.7 199.1C230.3 198.3 227.9 200.7 228.2 202.7Z" class="nd" style="opacity:.45;"/>
<ellipse cx="210.9" cy="196.4" rx="7.6" ry="5.1" transform="rotate(15 210.9 196.4)" class="fl"/>
<ellipse cx="211.5" cy="196.9" rx="5.5" ry="3.5" transform="rotate(15 211.5 196.9)" class="l"/>
<path d="M190 207.3C191.2 208.5 194.7 212.4 197.3 214.5C199.9 216.6 201.4 214.5 205.5 220C209.6 225.5 216.1 237.3 221.8 247.3C227.6 257.3 237 274.6 240 280" class="l"/>
<path d="M207.3 216.4L241.8 276.4" class="l"/>
<path d="M211.8 215.5L245.5 270.9" class="l"/>
<path d="M218.2 214.5C219.2 213 222.4 208.1 224.5 205.5C226.6 202.9 230.3 202.4 230.9 199.1C231.5 195.8 228.6 187.8 228.2 185.5" class="l"/>
<path d="M225.5 197.3C226.1 196.2 226.7 192.6 229.1 190.9C231.5 189.2 235.4 188.4 240 187.3C244.6 186.2 251.8 185.3 256.4 184.5C260.9 183.7 264.6 182.5 267.3 182.7C270 182.9 271.2 184.1 272.7 185.5C274.2 186.9 275.3 188.6 276.4 190.9C277.5 193.2 278.7 197.7 279.1 199.1" class="l2"/>
<path d="M228.2 202.7C228.9 201.9 230.4 199.7 232.7 198.2C235 196.7 238.5 195 241.8 193.6C245.1 192.2 250 190.8 252.7 190C255.4 189.2 256.4 188.9 258.2 189.1C260 189.2 261.8 189.7 263.6 190.9C265.4 192.1 267.6 194 269.1 196.4C270.6 198.8 272.1 204 272.7 205.5" class="l"/>
<path d="M228.2 202.7C229.2 204.1 232.4 207.4 234.5 210.9C236.6 214.4 238.9 219.1 240.9 223.6C242.9 228.1 244.9 233 246.4 238.2C247.9 243.3 248.9 250.6 250 254.5C251.1 258.4 251.3 260.1 252.7 261.8C254.1 263.5 256.1 264.4 258.2 264.5C260.3 264.6 264.3 263 265.5 262.7" class="l"/>
<path d="M232.7 199.1C234.4 200.5 239.4 203.5 242.7 207.3C246 211.1 250.1 217.7 252.7 221.8C255.3 225.9 257 227.9 258.2 231.8C259.4 235.8 259.7 240.5 260 245.5C260.3 250.5 260 259.1 260 261.8" class="l"/>
<path d="M272.7 205.5C273.8 206.7 277.7 209.7 279.1 212.7C280.5 215.7 280.3 219.6 280.9 223.6C281.5 227.6 281.8 231.8 282.7 236.4C283.6 241 285.3 246.4 286.4 250.9C287.5 255.4 288.2 260.1 289.1 263.6C290 267.1 290.3 269.7 291.8 271.8C293.3 273.9 295.6 275.5 298.2 276.4C300.8 277.3 304 277.3 307.3 277.3C310.6 277.3 316.4 276.5 318.2 276.4" class="l2"/>
<path d="M279.1 199.1C279.7 201.4 281.5 207.7 282.7 212.7C283.9 217.7 285.2 223.6 286.4 229.1C287.6 234.6 288.8 240.1 290 245.5C291.2 250.9 292.2 257.6 293.6 261.8C295 266 295.9 268.5 298.2 270.9C300.5 273.3 305.8 275.5 307.3 276.4" class="l"/>
<path d="M287.3 195.5C289.1 197.5 294.3 201.4 298.2 207.3C302.1 213.2 306.3 222.4 310.9 230.9C315.4 239.4 321.2 250 325.5 258.2C329.8 266.4 333.4 272.2 336.4 280C339.4 287.8 342.4 300.9 343.6 305.1" class="l"/>
<path d="M279.1 199.1C280.5 198.5 281.4 196.3 287.3 195.5C293.2 194.7 308.4 193.3 314.5 194.5C320.6 195.7 320.9 199.4 323.6 202.7C326.3 206 329.7 212.5 330.9 214.5" class="l"/>
<path d="M260 231.8L279.1 230" class="l"/>
<path d="M262.7 262.7L281.8 260.9" class="l"/>
<path d="M281.8 210.9L296.4 207.6" class="l"/>
<path d="M230.9 189.1L252.7 185.5" class="l2"/>
<path d="M238.2 181.8C238.5 182.7 239.2 185.3 240 187.3C240.8 189.3 242.2 192.6 242.7 193.6" class="l"/>
<path d="M270.9 177.3C271 178.2 271.5 181.3 271.8 182.7C272.1 184.1 272.6 185 272.7 185.5" class="l"/>
<path d="M236.4 285.5C237 284 238.2 279.1 240 276.4C241.8 273.7 244 270.6 247.3 269.1C250.6 267.6 256.4 266.1 260 267.3C263.6 268.5 267.6 273.1 269.1 276.4C270.6 279.7 270.3 284.6 269.1 287.3C267.9 290 263 291.8 261.8 292.7" class="l"/>
<ellipse cx="256.4" cy="276.4" rx="7.3" ry="5.6" transform="rotate(15 256.4 276.4)" class="fl"/>
<ellipse cx="256.5" cy="276.9" rx="4.7" ry="3.6" transform="rotate(15 256.5 276.9)" class="l"/>
<path d="M265.5 262.7C267 263.8 271.8 265 274.5 269.1C277.2 273.2 278.2 283.7 281.8 287.3C285.4 290.9 290.3 290.9 296.4 290.9C302.5 290.9 314.6 287.9 318.2 287.3" class="l"/>
<path d="M296.4 290.9L307.3 305.1" class="l"/>
<path d="M269.1 287.3L281.8 305.1" class="l"/>
<path d="M250 254.5L240 276.4" class="l"/>
<ellipse cx="286.4" cy="175.5" rx="5.8" ry="3.6" transform="rotate(15 286.4 175.5)" class="fl"/>
<ellipse cx="286.5" cy="175.8" rx="3.6" ry="2.2" transform="rotate(15 286.5 175.8)" class="l"/>
<path d="M274.5 173.6C275.1 175 275.8 180.1 278.2 181.8C280.6 183.5 286.1 184.2 289.1 183.6C292.1 183 295.2 179.1 296.4 178.2" class="l"/>
<path d="M357.5 265L370 275L377.5 300L380 345L375 365L365 378.8L347.5 383.8L350 360L357.5 325L355 295Z" class="nd" style="opacity:.55;"/>
<path d="M272.4 286.7C273.5 288.1 275.8 292.9 279.2 295C282.6 297.1 288.9 296.8 293 299.1C297.1 301.4 301 304.8 304 308.7C307 312.6 309 318.4 310.8 322.5C312.6 326.6 312.5 331 315 333.5C317.5 336 321.4 337.8 326 337.6C330.6 337.4 338.8 334.6 342.5 332.1C346.2 329.6 347.1 324.1 348 322.5" class="l2"/>
<path d="M268.2 290.9C269.4 292.5 271.7 298.2 275.1 300.5C278.6 302.8 285 302.3 288.9 304.6C292.8 306.9 295.8 310.3 298.5 314.2C301.2 318.1 303.2 323.6 305.3 328C307.4 332.4 307.4 337.6 310.8 340.4C314.2 343.1 320.3 345 326 344.5C331.7 344 342 338.8 345.2 337.6" class="l"/>
<path d="M342.5 289.5C343.4 292.2 346.9 300.5 348 306C349.1 311.5 349.5 317 349.3 322.5C349.1 328 348.2 333.1 346.6 339C345 344.9 342.7 352.7 339.7 358.2C336.7 363.7 332.8 368.8 328.7 372C324.6 375.2 317.3 376.6 315 377.5" class="l"/>
<path d="M352.1 286.7C352.9 289.9 355.8 300 356.8 306C357.8 312 358.2 316.6 357.9 322.5C357.6 328.4 356.8 335.3 355.1 341.7C353.5 348.1 351 355.5 348 361C345 366.5 338.8 372.4 337 374.7" class="l"/>
<path d="M370 281.2C370.9 284.9 374.1 296.3 375.5 303.2C376.9 310.1 378 315.6 378.2 322.5C378.4 329.4 377.7 338.1 376.8 344.5C375.9 350.9 373.8 356.9 372.7 361C371.6 365.1 370.4 367.8 370 369.2" class="l2"/>
<path d="M361.7 284C362.6 287.7 365.9 299.1 367.2 306C368.5 312.9 369.3 318.3 369.4 325.2C369.5 332.1 368.9 340.8 367.8 347.2C366.8 353.6 363.9 360.9 363.1 363.7" class="l"/>
<path d="M284.7 361C286.5 362.8 290.6 369.5 295.7 372C300.8 374.5 309.5 375.9 315 376.1C320.5 376.3 326.4 373.8 328.7 373.4" class="l"/>
<path d="M312.2 322.5L342.5 317" class="l"/>
<path d="M304 344.5C306.8 345.2 315.9 344.5 320.5 348.6C325.1 352.7 329.7 365.8 331.5 369.2" class="l"/>
<path d="M240.7 308.7C243 312.4 249.4 322.4 254.5 330.7C259.6 338.9 266 353.1 271 358.2C276 363.2 282.4 360.5 284.7 361" class="l"/>
<path d="M249 303.2C251.8 307.8 260.5 322.4 265.5 330.7C270.5 338.9 276.9 349 279.2 352.7" class="l"/>
<path d="M315 251C316.8 254.7 321.9 267.1 326 273C330.1 278.9 335.3 284.4 339.7 286.7C344.1 289 350 286.7 352.1 286.7" class="l"/>
<path d="M293 256.5C294.8 259.7 300.3 270.7 304 275.7C307.7 280.7 308.6 284.4 315 286.7C321.4 289 337.9 289 342.5 289.5" class="l"/>
<path d="M279.2 270.2C281.5 272.5 288.9 277.6 293 284C297.1 290.4 302.2 304.6 304 308.7" class="l"/>
<path d="M326 337.6L328.7 373.4" class="l"/>
<path d="M310.8 322.5L293 330.7L279.2 352.7" class="l"/>
<path d="M370 275L377.5 300L380 345L375 365" class="l2"/>
<path d="M362.5 282.5L371.2 305L373.8 340L370 362.5L362.5 375" class="l"/>
<path d="M285 372.5L287.5 357.5L297.5 346.2L312.5 345L321.2 355L321.2 375" class="l"/>
<ellipse cx="305" cy="357.5" rx="7.5" ry="6" transform="rotate(20 305 357.5)" class="fl"/>
<ellipse cx="305.5" cy="358.2" rx="4.8" ry="3.8" transform="rotate(20 305.5 358.2)" class="l"/>
<path d="M375 370L377.5 352.5L385 343.8L395 345L400 352.5" class="l"/>
<ellipse cx="388.8" cy="352" rx="7.5" ry="6.2" transform="rotate(20 388.8 352)" class="fl"/>
<ellipse cx="389.2" cy="352.8" rx="4.8" ry="4" transform="rotate(20 389.2 352.8)" class="l"/>
<path d="M323.8 207.5C322.5 217.5 328.8 230 337.5 235C345 240 350 255 357.5 265C365 273.8 382.5 272.5 388.8 265C393.8 258.8 390 250 385 247.5L370 232.5L360 215L352.5 200L328.8 203.8Z" class="fl"/>
<path d="M326.2 210C325.8 218.8 331.2 228 339.5 232.5C347.5 237.5 352.5 253.8 359.5 262.5C366.2 270 381.2 269.5 386.2 263" class="l"/>
<ellipse cx="339.5" cy="216.2" rx="9.5" ry="12" transform="rotate(-20 339.5 216.2)" class="f" style="fill:#7f9ac6;"/>
<path d="M335 207.5C331.2 215 335 223.8 342.5 227" class="l"/>
<ellipse cx="373.8" cy="256.2" rx="11.2" ry="8" transform="rotate(20 373.8 256.2)" class="f" style="fill:#7f9ac6;"/>
<ellipse cx="342" cy="218" rx="2.5" ry="3" class="l"/>
<ellipse cx="351.2" cy="232.5" rx="2.2" ry="3.5" transform="rotate(-30 351.2 232.5)" class="fd"/>
<path d="M392.5 275C396.2 272.5 402.5 275 403.8 280L392.5 298.8C387.5 300 382.5 296.2 383 291.2Z" class="f"/>
<ellipse cx="397.5" cy="280.5" rx="5.5" ry="4.2" transform="rotate(25 397.5 280.5)" class="fl"/>
<ellipse cx="397.8" cy="280.8" rx="2.2" ry="1.8" transform="rotate(25 397.8 280.8)" class="l"/>
<path d="M370 275L382.5 282.5" class="l"/>
<path d="M385 298.8L392.5 307.5L391.2 330L385 340" class="l"/>
<ellipse cx="475" cy="228" rx="25" ry="22" transform="rotate(25 475 228)" class="fl"/>
<ellipse cx="475" cy="228" rx="21.5" ry="18.5" transform="rotate(25 475 228)" class="f" style="fill:#2c3a5e;"/>
<ellipse cx="475.5" cy="229" rx="19" ry="16" transform="rotate(25 475.5 229)" class="f" style="fill:#a5bde0;"/>
<path d="M457.5 235C465 247.5 482.5 250 492.5 240" class="l"/>
<path d="M495 243.8L512.5 300L515 310L507.5 317.5L495 307.5L487.5 275L475 250" class="l"/>
<path d="M455 245L435 257.5L415 260L392.5 257.5" class="l"/>
<path d="M425 253.8L460 251.2" class="l2"/>
<path d="M415 260L425 275L435 310L430 325L415 330L410 320" class="l"/>
<path d="M405 282.5L415 295L422.5 320" class="l"/>
<path d="M427.5 262.5L437.5 258.8L437.5 262.5" class="l"/>
<path d="M441.2 275C442.5 267.5 455 262.5 467.5 263.8C480 263.8 487.5 268.8 486.2 275C485 282.5 472.5 287.5 462.5 286.2L450 305L441.2 290Z" class="f"/>
<path d="M450 305L465 300L475 286.2" class="l"/>
<ellipse cx="462" cy="274" rx="8" ry="6" transform="rotate(-10 462 274)" class="fd"/>
<ellipse cx="463" cy="275" rx="5" ry="3.8" transform="rotate(-10 463 275)" class="f" style="fill:#a5bde0;"/>
<ellipse cx="480" cy="272.5" rx="2.8" ry="2.5" class="l"/>
<path d="M455 335L456.2 317.5L462.5 308.8L475 308.8L481.2 317.5L480 325" class="l"/>
<ellipse cx="468.8" cy="319.5" rx="8" ry="6.5" transform="rotate(20 468.8 319.5)" class="fl"/>
<ellipse cx="469.2" cy="320.2" rx="5" ry="4" transform="rotate(20 469.2 320.2)" class="l"/>
<path d="M460 340L461.2 325" class="l"/>
<path d="M472.5 337.5L475 327.5" class="l"/>
<path d="M535 322.5L533.8 300L540 290L550 287.5" class="l"/>
<ellipse cx="548.8" cy="301.2" rx="7" ry="6" transform="rotate(20 548.8 301.2)" class="l"/>
<path d="M380 317.5L455 300" class="l"/>
<path d="M487.5 293.8L535 283.8" class="l"/>
<path d="M392.5 340L455 327.5" class="l"/>
<path d="M482.5 321.2L533.8 310" class="l"/>
<path d="M415 221.2L435 215L450 218.8" class="l"/>
<path d="M495 215L510 207.5L520 210L525 222.5L515 230L502.5 225" class="l"/>
<ellipse cx="511.2" cy="212.5" rx="5.5" ry="4.2" transform="rotate(20 511.2 212.5)" class="l"/>
<path d="M515 230L527.5 250L550 257.5" class="l"/>
<path d="M525 262.5L535 253.8L543.8 257.5L532.5 270Z" class="f"/>
<ellipse cx="543.8" cy="247.5" rx="4.5" ry="3.5" transform="rotate(20 543.8 247.5)" class="fl"/>
<path d="M400 173.8L410 162.5L425 156.2L440 155" class="l"/>
<ellipse cx="415.5" cy="166.2" rx="4.2" ry="3.5" transform="rotate(20 415.5 166.2)" class="fl"/>
<ellipse cx="415.5" cy="166.2" rx="2" ry="1.8" transform="rotate(20 415.5 166.2)" class="l"/>
<path d="M427.5 167.5C428.8 162.5 440 160 445 166.2L443.8 177.5L430 182.5Z" class="f"/>
<ellipse cx="437.5" cy="166.2" rx="5" ry="3.8" transform="rotate(15 437.5 166.2)" class="fl"/>
<ellipse cx="437.5" cy="166.5" rx="2.2" ry="1.8" transform="rotate(15 437.5 166.5)" class="l"/>
<ellipse cx="453.8" cy="182.5" rx="7.5" ry="6.2" transform="rotate(20 453.8 182.5)" class="fl"/>
<ellipse cx="454" cy="183" rx="4.8" ry="4" transform="rotate(20 454 183)" class="l"/>
<path d="M456.2 170L465 192.5L457.5 202.5L445 202.5" class="l"/>
<path d="M400 185L420 177.5L427.5 195L415 205L400 202.5" class="l"/>
<path d="M405 195L425 225L447.5 227.5" class="l"/>
<path d="M427.5 195L450 220" class="l"/>
<path d="M420 230L440 225L450 220" class="l2"/>
<path d="M498.8 202.5L505 197.5L517.5 200L522.5 210L517.5 220" class="l"/>
<ellipse cx="510.5" cy="211.2" rx="7.5" ry="6.5" transform="rotate(20 510.5 211.2)" class="fl"/>
<ellipse cx="511" cy="211.8" rx="4.8" ry="4" transform="rotate(20 511 211.8)" class="l"/>
<ellipse cx="507.5" cy="155" rx="5.5" ry="7" transform="rotate(-20 507.5 155)" class="l"/>
<path d="M545 170L575 158.8L597.5 180L575 193.8L550 186.2Z" class="nl"/>
<path d="M540 170L575 157.5L597.5 180L607.5 185" class="l"/>
<path d="M550 186.2L575 193.8L597.5 180" class="l"/>
<path d="M545 170L550 186.2L540 200" class="l"/>
<path d="M575 157.5L585 150" class="l"/>
<path d="M597.5 146.2L600 165L610 182.5" class="l"/>
<path d="M575 202.5L600 200L607.5 185" class="l"/>
<path d="M572.5 230L605 227.5" class="l2"/>
<path d="M580 237.5L650 225" class="l"/>
<path d="M650 225L675 220" class="l"/>
<path d="M550 260L675 237.5" class="l"/>
<path d="M552.5 280L660 260" class="l"/>
<path d="M505 295L535 290" class="l"/>
<path d="M480 260L500 295" class="l"/>
<path d="M495 245L482.5 260" class="l"/>
<path d="M483.8 250.5L498.8 245.5L521.2 295.5L516.2 310.5L498.8 315.5L496.2 295.5Z" class="f" style="fill:#b4c8e9;"/>
<path d="M498.8 245.5L505 242.5L527.5 292.5" class="l"/>
<path d="M516.2 310.5L527.5 292.5" class="l"/>
<path d="M450.5 232.5C452.5 250 485 260 498 242.5L498.8 253.8C485 271.2 452.5 261.2 450.5 243.8Z" class="f" style="fill:#9ab3da;"/>
<path d="M560 235L575 230L597.5 280L592.5 295L575 300L572.5 280Z" class="f" style="fill:#b4c8e9;"/>
<path d="M575 230L581.2 227L603.8 277" class="l"/>
<path d="M592.5 295L603.8 277" class="l"/>
<path d="M526.8 217C528.8 234.5 561.2 244.5 574.2 227L575 238.2C561.2 255.8 528.8 245.8 526.8 228.2Z" class="f" style="fill:#9ab3da;"/>
<path d="M635 227.5L650 222.5L672.5 272.5L667.5 287.5L650 292.5L647.5 272.5Z" class="f" style="fill:#b4c8e9;"/>
<path d="M650 222.5L656.2 219.5L678.8 269.5" class="l"/>
<path d="M667.5 287.5L678.8 269.5" class="l"/>
<path d="M601.8 209.5C603.8 227 636.2 237 649.2 219.5L650 230.8C636.2 248.2 603.8 238.2 601.8 220.8Z" class="f" style="fill:#9ab3da;"/>
<ellipse cx="551.2" cy="214.5" rx="24.5" ry="22" transform="rotate(25 551.2 214.5)" class="fl"/>
<ellipse cx="551.2" cy="214.5" rx="21.5" ry="19" transform="rotate(25 551.2 214.5)" class="f" style="fill:#2c3a5e;"/>
<ellipse cx="551.8" cy="215.2" rx="19.5" ry="16.8" transform="rotate(25 551.8 215.2)" class="f" style="fill:#a5bde0;"/>
<path d="M560 223.8L572.5 226.2L570 231.2Z" class="fl"/>
<ellipse cx="475" cy="230" rx="25" ry="22" transform="rotate(25 475 230)" class="fl"/>
<ellipse cx="475" cy="230" rx="22" ry="19" transform="rotate(25 475 230)" class="f" style="fill:#2c3a5e;"/>
<ellipse cx="475.5" cy="230.8" rx="20" ry="16.8" transform="rotate(25 475.5 230.8)" class="f" style="fill:#a5bde0;"/>
<path d="M536.2 220C542.5 232.5 560 235 570 226.2" class="l"/>
<ellipse cx="626.2" cy="207" rx="24" ry="22" transform="rotate(25 626.2 207)" class="fl"/>
<ellipse cx="626.2" cy="207" rx="20.5" ry="18.5" transform="rotate(25 626.2 207)" class="f" style="fill:#2c3a5e;"/>
<ellipse cx="626.8" cy="207.8" rx="18.5" ry="16.2" transform="rotate(25 626.8 207.8)" class="f" style="fill:#a5bde0;"/>
<path d="M621.2 190L628.8 188.8L631.2 195L623.8 196.2Z" class="fl"/>
<ellipse cx="617.5" cy="143.8" rx="6.8" ry="5" transform="rotate(20 617.5 143.8)" class="fl"/>
<ellipse cx="617.5" cy="144" rx="3.8" ry="2.8" transform="rotate(20 617.5 144)" class="l"/>
<path d="M622.5 152.5C625 146.2 640 145 646.2 151.2L655 161.2L656.2 168.8L647.5 173.8L635 167.5Z" class="f"/>
<ellipse cx="636.2" cy="157" rx="10.5" ry="8" transform="rotate(20 636.2 157)" class="fl"/>
<ellipse cx="636.5" cy="157.5" rx="7.5" ry="5.5" transform="rotate(20 636.5 157.5)" class="l"/>
<ellipse cx="652.5" cy="166.2" rx="2.5" ry="2" class="l"/>
<ellipse cx="664.2" cy="206.8" rx="7.5" ry="6.5" transform="rotate(20 664.2 206.8)" class="fl"/>
<ellipse cx="664.5" cy="207.2" rx="4.8" ry="4" transform="rotate(20 664.5 207.2)" class="l"/>
<path d="M650 185L655 195L652.5 202.5" class="l"/>
<path d="M607.5 137.5L612.5 152.5L622.5 152.5" class="l"/>
<path d="M537 243C540 239.5 549 241.5 550 247L536.2 270C531.2 271.5 523.8 268 524.5 263Z" class="f"/>
<ellipse cx="544.5" cy="247" rx="5.5" ry="4.2" transform="rotate(25 544.5 247)" class="fl"/>
<ellipse cx="544.8" cy="247.2" rx="2.2" ry="1.8" transform="rotate(25 544.8 247.2)" class="l"/>
<path d="M535 310L536.2 295L543.8 287.5L555 290L560 300L558.8 310" class="l"/>
<ellipse cx="548" cy="305.5" rx="7.5" ry="6.2" transform="rotate(20 548 305.5)" class="fl"/>
<ellipse cx="548.5" cy="306.2" rx="4.8" ry="4" transform="rotate(20 548.5 306.2)" class="l"/>
<path d="M595 282.5C598.8 280 607 282.5 608 287.5L597.5 305C592.5 306.2 586.2 302.5 587 298Z" class="f"/>
<ellipse cx="602.5" cy="287" rx="5" ry="4" transform="rotate(25 602.5 287)" class="fl"/>
<ellipse cx="602.8" cy="287.2" rx="2.2" ry="1.8" transform="rotate(25 602.8 287.2)" class="l"/>
<path d="M612.5 300L613.8 285L620 280L630 282.5L633.8 292.5L630 305" class="l"/>
<ellipse cx="623" cy="292.5" rx="7.5" ry="6.5" transform="rotate(20 623 292.5)" class="fl"/>
<ellipse cx="623.5" cy="293.2" rx="4.8" ry="4" transform="rotate(20 623.5 293.2)" class="l"/>
<ellipse cx="467.5" cy="315" rx="7.5" ry="6" transform="rotate(20 467.5 315)" class="l"/>
<path d="M685 237.5L697.5 250L700 257.5L698.8 270L701.2 280L700 287.5L692.5 292.5L685 296.2L683.8 270L675 245Z" class="nd" style="opacity:.6;"/>
<path d="M675 245L683.8 270L685 296.2" class="l"/>
<path d="M678.8 230L675 245L650 222.5" class="l"/>
<path d="M662.5 198.8L650 222.5" class="l"/>
<ellipse cx="663" cy="205.5" rx="7.5" ry="6.5" transform="rotate(20 663 205.5)" class="fl"/>
<ellipse cx="663.5" cy="206.2" rx="4.8" ry="4" transform="rotate(20 663.5 206.2)" class="l"/>
<path d="M672.5 211.2L682.5 201.2L690 200L693.8 206.2L691.2 212.5L680 226.2L675 222.5Z" class="f"/>
<ellipse cx="686.8" cy="205.5" rx="4" ry="3.2" transform="rotate(25 686.8 205.5)" class="fl"/>
<ellipse cx="687" cy="205.8" rx="1.8" ry="1.5" transform="rotate(25 687 205.8)" class="l"/>
<ellipse cx="617.5" cy="145.5" rx="5.5" ry="4.2" transform="rotate(20 617.5 145.5)" class="l"/>
<ellipse cx="651.8" cy="165" rx="2.2" ry="1.8" class="l"/>
<path d="M660 290C662.5 275 672.5 267.5 680 270L685 276.2L675 293.8L665 296.2Z" class="f"/>
<ellipse cx="676.8" cy="272.5" rx="4.5" ry="3.8" transform="rotate(25 676.8 272.5)" class="fl"/>
<ellipse cx="677" cy="272.8" rx="2" ry="1.5" transform="rotate(25 677 272.8)" class="l"/>
<path d="M681.2 275L682.5 267.5L690 265L698.8 270L700 280L692.5 290L685 287.5" class="f"/>
<ellipse cx="690.5" cy="275.5" rx="8" ry="6.8" transform="rotate(20 690.5 275.5)" class="fl"/>
<ellipse cx="691" cy="276.2" rx="5.2" ry="4.2" transform="rotate(20 691 276.2)" class="l"/>
<path d="M585 302.5C587.5 290 598.8 283.8 606.2 285L611.2 290L600 310L592.5 312.5Z" class="f"/>
<ellipse cx="605" cy="287.5" rx="4.5" ry="3.8" transform="rotate(25 605 287.5)" class="fl"/>
<ellipse cx="605.2" cy="287.8" rx="2" ry="1.5" transform="rotate(25 605.2 287.8)" class="l"/>
<path d="M610 305L611.2 287.5L618.8 280L628.8 282.5L632.5 292.5L632.5 300L625 305L617.5 307.5Z" class="f"/>
<ellipse cx="623.2" cy="290.5" rx="8" ry="6.8" transform="rotate(20 623.2 290.5)" class="fl"/>
<ellipse cx="623.8" cy="291.2" rx="5.2" ry="4.2" transform="rotate(20 623.8 291.2)" class="l"/>
<path d="M532.5 320L533.8 302.5L540 293.8L551.2 293.8L557 302.5L557.5 315L555 322.5L547.5 326.2L537.5 325Z" class="f"/>
<ellipse cx="546.2" cy="304.2" rx="8" ry="6.8" transform="rotate(20 546.2 304.2)" class="fl"/>
<ellipse cx="546.8" cy="305" rx="5.2" ry="4.2" transform="rotate(20 546.8 305)" class="l"/>
<path d="M640 227.5L660 280L655 290" class="l"/>
<path d="M650 222.5L670 270" class="l"/>
<path d="M557.5 300L585 292.5" class="l"/>
<path d="M632.5 290L660 282.5" class="l"/>
</g>
<path d="M189.6 204.6L192.4 196.4L199.2 189.5L210.2 187.3L221.2 190.9L229.5 184L248.7 178.5L270.7 174.4L274.9 169.7L283.1 167.5L291.4 170.2L294.9 175.2L298.2 181.2L312 188.1L325.7 193.6L334 192.2L345 185.4L360 176L400 171.6L408.2 166.1L413.7 159.2L422 157L435.7 155.1L444 158L450 160.5L456.2 170L466.2 185L475 195L481 201L492 190L498 170L500 152.5L505 145L512.5 143.8L516.2 146.2L525 160L540 161.2L550 157.5L570 157.5L575 151.2L585 150L592.5 153.8L597.5 146.2L607.5 137.5L617.5 136L625 142.5L640 148.8L650 155L658.8 165L656 172.5L650 177.5L650 183.8L653.8 193.8L662.5 198.8L672.5 211L682.5 201L690 200L693.8 206L691 212.5L680 226L678.8 230L685 237.5L697.5 250L700 257.5L698.8 270L701 280L700 287.5L692.5 292.5L685 296L675 293.8L665 296L660 290L657.5 291L632.5 300L625 305L617.5 307.5L610 305L600 310L592.5 312.5L585 302.5L567.5 310L557.5 315L555 322.5L547.5 326L537.5 325L532.5 320L500 327.5L479 331L473.6 336.7L464 340.8L455.7 335L450 336L420 344L400 350L398.8 361L389 372L378 369L370 372L353.5 380L342.5 381.6L328.7 374.7L315 377.5L295.7 380L287.5 372L284.7 361L275 347.5L250 300L243 299.5L237.5 287.5L240 280L205 219L190 206Z" class="l2" style="stroke-width:1.4;"/>
</g>
<g id="topparts">
<path d="M351.4 191.4C351.4 197.7 353.9 205.2 357.6 209C362.7 214 367.1 219 367.7 225.3C368.9 232.8 372.7 240.3 379 244.1C385.2 247.2 394 248.1 400.3 246.6C409.1 244.1 414.7 237.8 414.7 230.3L414.7 225.3C414.7 232.8 409.1 239.1 400.3 241.6C394 243.1 385.2 242.2 379 239.1C372.7 235.3 368.9 227.8 367.7 220.3C367.1 214 362.7 209 357.6 204C353.9 200.2 351.4 192.7 351.4 186.4Z" fill="none" stroke="#fff" stroke-width="3.4" stroke-linejoin="round"/>
<path d="M351.4 186.4C351.4 180.1 356.4 173.8 362.7 172C367.7 170.1 376.5 170.1 382.7 172C390.3 174.5 395.3 180.1 397.2 186.4C398.4 192.7 401.6 198.9 407.8 205.2C412.2 210.2 414.7 217.8 414.7 225.3C414.7 232.8 409.1 239.1 400.3 241.6C394 243.1 385.2 242.2 379 239.1C372.7 235.3 368.9 227.8 367.7 220.3C367.1 214 362.7 209 357.6 204C353.9 200.2 351.4 192.7 351.4 186.4Z" fill="none" stroke="#fff" stroke-width="3.4" stroke-linejoin="round"/>
<path d="M351.4 191.4C351.4 197.7 353.9 205.2 357.6 209C362.7 214 367.1 219 367.7 225.3C368.9 232.8 372.7 240.3 379 244.1C385.2 247.2 394 248.1 400.3 246.6C409.1 244.1 414.7 237.8 414.7 230.3L414.7 225.3C414.7 232.8 409.1 239.1 400.3 241.6C394 243.1 385.2 242.2 379 239.1C372.7 235.3 368.9 227.8 367.7 220.3C367.1 214 362.7 209 357.6 204C353.9 200.2 351.4 192.7 351.4 186.4Z" class="f" style="fill:#3a4a72;"/>
<path d="M351.6 191.4C352 197.1 354.5 203.3 358.3 207.1C363.3 212.1 367.7 217.1 368.4 223.4C369.6 230.3 373.3 237.8 379.6 241.6C385.9 244.4 394 245.4 400.3 244.1C407.8 242 413.5 236.6 414.4 230.3" class="l" style="stroke:#a5bde0;stroke-width:1;"/>
<path d="M351.4 186.4C351.4 180.1 356.4 173.8 362.7 172C367.7 170.1 376.5 170.1 382.7 172C390.3 174.5 395.3 180.1 397.2 186.4C398.4 192.7 401.6 198.9 407.8 205.2C412.2 210.2 414.7 217.8 414.7 225.3C414.7 232.8 409.1 239.1 400.3 241.6C394 243.1 385.2 242.2 379 239.1C372.7 235.3 368.9 227.8 367.7 220.3C367.1 214 362.7 209 357.6 204C353.9 200.2 351.4 192.7 351.4 186.4Z" class="f"/>
<path d="M354.5 186.4C354.9 181.4 358.3 177 363.3 175.1C368.9 173.2 376.5 173.2 382.1 175.1" class="l"/>
<ellipse cx="377.1" cy="188.9" rx="13.6" ry="10.8" transform="rotate(25 377.1 188.9)" class="f" style="fill:#4a5d8a;"/>
<ellipse cx="378" cy="190.4" rx="11.5" ry="8.8" transform="rotate(25 378 190.4)" class="f" style="fill:#6580ae;"/>
<path d="M367.1 187.6C370.2 193.9 380.2 200.2 388.4 197.7" class="l"/>
<path d="M368.3 191.4C372.7 197.7 380.2 201.4 386.5 200.2" class="l"/>
<path d="M366.4 183.9C367.7 190.2 379 197.7 389 194.5" class="l"/>
<ellipse cx="393.4" cy="217.8" rx="13.6" ry="11.3" transform="rotate(25 393.4 217.8)" class="f" style="fill:#4a5d8a;"/>
<ellipse cx="394.3" cy="219.3" rx="11.5" ry="9.3" transform="rotate(25 394.3 219.3)" class="f" style="fill:#6580ae;"/>
<path d="M382.7 216.5C386.5 224 396.5 230.3 404.7 226.5" class="l"/>
<path d="M384 220.9C388.4 227.8 396.5 231.6 402.8 229.7" class="l"/>
<path d="M382.1 212.7C384 220.3 395.3 227.8 405.3 223.4" class="l"/>
<path d="M367.7 212.7L372.7 211.5L379 205.2" class="l"/>
<path d="M563.5 60.7L569.5 59.5L580.1 63.1L596.8 80.9L601.5 91.6L599.1 101.1L587.3 118.9L584.9 126L579 127.2L576.6 122.4L568.3 133.1L565.9 137.9L544.5 156.9L532.6 173.5L518.4 185.4L518.4 190.1L513.6 193.7L508.9 192.5L489.9 216.3L485.1 219.8L478 221L472.1 213.9L473.3 208L497 181.8L506 168.8L505.3 164L508.9 158.1L530.3 128.4L530.3 118.9L535 110.6L544.5 98.7L549.3 84.4L556.4 71.4Z" class="w"/>
<path d="M563.5 60.7L569.5 59.5L580.1 63.1L596.8 80.9L601.5 91.6L599.1 101.1L587.3 118.9L576.6 122.4L563.5 114.1L551.6 95.1L549.3 84.4L556.4 71.4Z" class="w"/>
<path d="M564.7 69L579 72.6L593.2 88L595.6 93.9L592 101.1L584.9 108.2L574.2 107L563.5 97.5L560 89.2L561.1 78.5Z" class="w"/>
<path d="M556.4 71.4L558.8 95.1L571.8 115.3" class="l"/>
<path d="M552.8 78.5L555.2 98.7L568.3 118.9" class="l"/>
<path d="M549.3 84.4L552.1 102.3L564.7 121.3" class="l"/>
<path d="M580.1 66.6L582.5 67.1L582 69.5" class="l"/>
<path d="M544.5 98.7C549.3 109.4 561.1 118.9 576.6 122.4" class="l"/>
<path d="M541 103.4C545.7 114.1 557.6 123.6 573 127.2" class="l"/>
<path d="M537.9 107C542.6 118.4 555.2 127.9 570.2 130.8" class="l"/>
<path d="M535 110.6C539.3 122.4 551.6 131.9 567.1 135.5" class="l"/>
<path d="M532.6 115.3C536.2 126.5 548.1 136 564 139.8" class="l"/>
<path d="M530.3 118.9C533.8 130.8 545.7 140.3 560 143.1" class="l"/>
<path d="M530.3 128.4C533.8 136.7 542.1 143.8 551.6 149.8" class="l"/>
<path d="M556.4 118.9L551.6 128.4L544.5 140.3L546.9 154.5" class="l"/>
<path d="M561.1 116.5L557.6 123.6" class="l"/>
<path d="M579 127.2C582.5 128.4 585.4 125.5 584.9 121.3" class="l"/>
<path d="M508.9 158.1C513.6 166.4 523.1 170 535 170" class="l2"/>
<path d="M505.3 164C511.3 173.5 520.8 177.1 532.6 173.5" class="l2"/>
<path d="M506 168.8C510.1 174.7 516 178.3 521.9 179.5" class="l"/>
<path d="M518.4 185.4L521.9 179.5" class="l"/>
<path d="M497 181.8L478 204.4L478 221" class="l"/>
<path d="M500.6 184.2L481.6 206.8" class="l"/>
<path d="M508.9 192.5L485.1 219.8" class="l"/>
<path d="M497 181.8C500.6 186.6 506.5 189 513.6 193.7" class="l"/>
<path d="M473.3 208L478 204.4" class="l"/>
<path d="M472.1 213.9L478 216.3" class="l"/>
<path d="M611 83.7C611 81.6 613.1 80.5 615.4 80.5C617.9 80.5 619.5 82.3 620.3 84.1L625.4 91.2C626.1 94 624.7 96.1 622 97.2C619.2 98.1 617.2 96.7 616.5 95.4L612.6 89.2C611.7 87.1 611 85.5 611 83.7Z" class="f"/>
<ellipse cx="615.4" cy="83.7" rx="4.3" ry="2.7" transform="rotate(25 615.4 83.7)" class="f" style="fill:#5f7aa8;"/>
<ellipse cx="615.7" cy="84" rx="2.5" ry="1.5" transform="rotate(25 615.7 84)" class="f" style="fill:#3b4b73;"/>
<path d="M613.7 89.9C616.5 91.2 620.6 89.9 622.7 87.4" class="l"/>
<path d="M712.7 74.1L709.3 79.6C709 81.6 712.1 83.4 714.1 82.7L717.1 77.2Z" class="f"/>
<path d="M712.1 70.6C712.1 67.2 715.5 64.4 719.6 63.7C723.1 63.7 725.1 65.8 725.4 69.2C725.4 72.7 723.7 75.4 721 76.4C717.6 77.5 713.4 76.1 712.5 73.6Z" class="f"/>
<ellipse cx="719.3" cy="67.6" rx="5.2" ry="3.3" transform="rotate(-15 719.3 67.6)" class="fl"/>
<ellipse cx="719.9" cy="67" rx="1.2" ry="1" class="fd"/>
<path d="M712.5 72C714.8 75.4 721 75.4 724.8 71.3" class="l"/>
<path d="M657.1 103.6L659.1 99.5L674.9 105L682.5 100.9L684.6 105L682.5 109.1L688 112.6L692.1 117.4L691.4 122.2L686.6 125.6L681.1 123.6L674.2 118.7L668.7 116L664.6 120.1L661.9 131.1L656.4 134.6L650.9 133.2L646.7 129.1L647.4 124.9L655 111.9L657.1 107.7Z" class="f"/>
<path d="M682.5 109.1L688 112.6L692.1 117.4L691.4 122.2L686.6 125.6L681.1 123.6L674.2 118.7L677 111.9Z" class="f" style="fill:#7f9ac6;"/>
<ellipse cx="685.2" cy="117.1" rx="3" ry="1.8" transform="rotate(35 685.2 117.1)" class="w"/>
<ellipse cx="685.5" cy="117.4" rx="1.4" ry="0.8" transform="rotate(35 685.5 117.4)" class="fd"/>
<path d="M657.1 107.7C660.5 111.9 668.7 114.6 674.9 112.6L682.5 109.1" class="l2"/>
<path d="M655 111.9C657.7 115.3 664.6 117.4 668.7 116L661.9 131.1C660.5 134.1 654.3 134.6 650.9 133.2C648.1 132.2 646.5 130.4 646.7 129.1Z" class="f"/>
<path d="M655 121.5L652.9 129.7" class="l" style="stroke:#2a395f;stroke-width:2;"/>
<path d="M659.1 116L655 127" class="l"/>
<path d="M660.5 124.2L658.4 132.5" class="l"/>
<path d="M645.4 87.1L648.1 74.7L652.9 73.6L655 75.4L664.6 79.6L671.5 85.1L679.1 91.2L680.4 96.7L678.4 100.2L674.9 105L666 101.6L657.7 96.7L648.1 91.2Z" class="f"/>
<path d="M645.4 87.1L648.1 74.7L651.1 76.1L648.9 89.6Z" class="f" style="fill:#5f7aa8;"/>
<path d="M651.1 76.1L664.6 82.3L674.2 89.9L677 95.4L674.9 105" class="l2"/>
<path d="M648.9 89.6L657.7 94L666 98.8L674.9 105" class="l"/>
<path d="M657.7 83L656.4 91.2L666 96.7L668.1 87.8Z" class="f" style="fill:#6d87b5;"/>
<path d="M668.1 87.8L671.5 85.1M666 96.7L668.7 98.1L671.5 91.2L668.1 87.8" class="l"/>
<path d="M652.9 73.6L654.3 77.5M655 75.4L656.4 78.9L659.1 79.6" class="l2"/>
<path d="M677 95.4C679.7 96.7 681.1 99.5 680.4 102.2L678.4 100.2" class="l"/>
</g>
<g id="shield">
<path d="M1024 341L1036 305L1052.5 268.8L1057.5 266.2L1068.8 271.2L1071 277.5L1061 335L1046 400Z" class="f"/>
<path d="M652.5 445.5L660 437.5L695 432L765 423.5C775 400 780 388 783 382C787 372 791 367 800 364.5L815.7 360.8L945 328L955 332.5L977.5 336.5C990 340 1010 343 1023.8 341C1040 338 1052 334 1061 329L1061 335L1046 400L1040 425C1037 437 1030 444 1018 447C1005 450 985 447 960 442.5L957.5 436L928.8 427.5L850 450L825 456L680 484L675 483.8L655 452Z" class="f"/>
<path d="M652 441.2L660 437.5L710 428.8L765 422.5L770 425L763.8 440L757.5 450L747.5 456.2L740 455.5L712.5 462.5L696.2 466.2L677.5 482.5L675 483.8L654.5 450Z" class="f" style="fill:#a9c0e2;"/>
<path d="M812.5 361.2L795 365C790 367 788 370 786.2 375L770 425C766.2 437.5 762.5 446.2 757.5 450C752.5 454.5 746.2 457 740 455.5" class="l2"/>
<path d="M815 362.5L800 366.5C793.8 368.5 791.5 371.5 789.5 376.5L773.8 425C770 438.8 765 448.8 760 452" class="l"/>
<path d="M712.5 462.5L875 431.2" class="l"/>
<path d="M700 468L915 426.2" class="l"/>
<path d="M892.5 428L915 423.8" class="l"/>
<path d="M677.5 482.5L696.2 466.2" class="l"/>
<path d="M681.2 483L698.8 468" class="l"/>
<path d="M696.2 466.2L712.5 462.5" class="l"/>
<path d="M855 450C865 446.2 877.5 442.5 890 440L890 441C877.5 444 866.2 447.5 857.5 451.2Z" fill="#1a2440"/>
<path d="M945 328L950 336L935 400L931 420L928.8 427.5" class="l2"/>
<path d="M950 336C960 333 968 335 977.5 336.5" class="l"/>
<path d="M957.5 436L960 442.5" class="l"/>
<path d="M850 447L905 432" class="l"/>
<path d="M893 428L925 421" class="l"/>
<ellipse cx="963.8" cy="346.3" rx="4" ry="4" class="fl"/>
<ellipse cx="963.8" cy="346.3" rx="2.2" ry="2.2" class="l"/>
<path d="M948 394L953 392L957.5 395L957 400L952 402.5L947.5 399Z" class="fl"/>
<path d="M1052.5 268.8L1036 305" class="l"/>
<path d="M1061 273L1055 300L1047 335" class="l"/>
<path d="M1065 276L1058 305L1052 334" class="l"/>
<path d="M1035 310C1037 302 1046 303 1046 310L1042 338L1030 340Z" class="f"/>
<ellipse cx="1041" cy="308.5" rx="2.2" ry="2.6" class="w"/>
<path d="M1046 310L1052 300L1056 304L1050 330L1047 336" class="l"/>
<path d="M688.8 386.2C688.8 380 696.2 377.5 702.5 381.2C706.2 383.8 707 387.5 707 390L708.8 427.5L712.5 462.5L696.2 466.2L693.8 432.5Z" class="f"/>
<path d="M691.8 390L695.5 433L698 465" class="l"/>
<ellipse cx="698" cy="387" rx="3" ry="3.2" class="w"/>
<ellipse cx="702.5" cy="432" rx="3" ry="3.2" class="fd"/>
<ellipse cx="702.5" cy="432" rx="1.5" ry="1.6" class="l"/>
<ellipse cx="703.5" cy="447.5" rx="3" ry="3.2" class="fd"/>
<ellipse cx="703.5" cy="447.5" rx="1.5" ry="1.6" class="l"/>
<path d="M693.8 432.5L708.8 427.5" class="l"/>
<ellipse cx="693.8" cy="476.2" rx="0.8" ry="0.8" class="l"/>
<ellipse cx="700" cy="471.2" rx="0.8" ry="0.8" class="l"/>
</g>
<g id="bracket">
<path d="M575 625L579.5 620.5L583 618L585 621L587.5 620L735 600L736.2 603.5L590 624.5L587.5 627L585 626L583 629L578 627Z" class="f" style="fill:#8ea9d1;"/>
<path d="M590 622.5L735 602" class="l"/>
<path d="M613.8 618L615.2 621" class="l2"/>
<path d="M645 613L646.5 616" class="l2"/>
<path d="M673.8 609L675.2 612" class="l2"/>
<path d="M700 605.5L701.5 608.5" class="l2"/>
<path d="M807.5 550L811.2 542.5L820 538.8L840 541.2L875 546.2L895 557.5L917.5 575L923.8 585L921.2 595L917.5 597.5L921.2 602.5L920 615L917.5 618.8L923.8 632.5L922.5 640L912.5 653.8L900 656.2L897.5 650L892.5 656.2L885 662.5L883.8 667.5L875 670L868.8 667.5L867.5 660L850 650L835 647.5L825 660L817.5 668.8L810 673.8L800 673.8L791.2 670L786.2 662.5L788.8 650L782.5 637.5L772.5 632.5L767.5 625L761.2 616.2L748.8 617.5L737.5 620L730 623.8L726.2 616.2L721.2 611.2L722.5 606.2L747.5 595L775 578.8L787.5 577L802.5 580L812.5 565L810 557.5Z" class="f"/>
<path d="M917.5 597.5L921.2 602.5L920 615L917.5 618.8L923.8 632.5L922.5 640L912.5 653.8L900 656.2L897.5 650L907.5 620L912.5 602.5Z" class="fd"/>
<path d="M912.5 610L917.5 620L915 637.5L905 645" class="l"/>
<path d="M915 605L918.8 610" class="l2"/>
<path d="M900 640L907.5 637.5L910 630" class="l2"/>
<path d="M807.5 550L811.2 542.5L820 538.8L840 541.2L875 546.2L895 557.5L917.5 575L923.8 585L921.2 595L912.5 602.5L895 597.5L875 592.5L842.5 576.2L815 560Z" class="f" style="fill:#abc2e4;"/>
<ellipse cx="865" cy="567.5" rx="24" ry="15.5" transform="rotate(12 865 567.5)" class="f" style="fill:#8aa4cf;"/>
<clipPath id="bh"><ellipse cx="865" cy="567.5" rx="24" ry="15.5" transform="rotate(12 865 567.5)"/></clipPath><g clip-path="url(#bh)">
<ellipse cx="863" cy="571.5" rx="22" ry="13.5" transform="rotate(12 863 571.5)" class="f" style="fill:#9db6dc;"/>
<ellipse cx="862" cy="574" rx="20" ry="11.5" transform="rotate(12 862 574)" class="f" style="fill:#a5bde0;"/>
<ellipse cx="861.5" cy="576" rx="18" ry="10" transform="rotate(12 861.5 576)" class="f" style="fill:#b0c5e7;"/>
</g>
<ellipse cx="825.8" cy="549.5" rx="3.2" ry="2.2" transform="rotate(10 825.8 549.5)" class="fl"/>
<ellipse cx="907" cy="583" rx="3.2" ry="2.2" transform="rotate(10 907 583)" class="fl"/>
<path d="M815 560L842.5 576.2L832.5 627.5L812.5 595L812.5 565Z" class="f" style="fill:#9db6dc;"/>
<path d="M842.5 576.2L875 592.5L855 630L832.5 627.5Z" class="f" style="fill:#a9c0e3;"/>
<path d="M875 592.5L912.5 602.5L907.5 620L855 630Z" class="f"/>
<path d="M802.5 580C807.5 595 817.5 620 832.5 627.5C842.5 632.5 855 633.8 907.5 620" class="l2" style="stroke-width:1.6;"/>
<path d="M802.5 580L807.5 595L825 625L835 632.5L860 635L907.5 622.5L897.5 650L892.5 656.2L885 662.5L867.5 660L850 650L835 647.5L815 637.5L800 620L795 602.5Z" class="f"/>
<ellipse cx="883.8" cy="650.5" rx="3.5" ry="2.8" transform="rotate(15 883.8 650.5)" class="fl"/>
<ellipse cx="807" cy="617" rx="3.5" ry="3" class="fl"/>
<path d="M868.8 667.5C870 662.5 880 660 885 662.5" class="l"/>
<path d="M721.2 611.2L722.5 606.2L747.5 595L775 578.8L787.5 577L802.5 580L795 602.5L782.5 595L772.5 602.5L767.5 625L761.2 616.2L748.8 617.5L737.5 620L730 623.8L726.2 616.2Z" class="f"/>
<path d="M726.2 616.2L731.2 614.5" class="l2"/>
<path d="M747.5 595L742.5 606.2L737.5 620" class="l"/>
<path d="M775 578.8L762.5 592.5L761.2 616.2" class="l"/>
<path d="M757.5 590L750 605" class="l"/>
<path d="M772.5 602.5L782.5 595L795 602.5L800 620L815 637.5L825 660L817.5 668.8L810 673.8L800 673.8L791.2 670L786.2 662.5L788.8 650L782.5 637.5L772.5 632.5Z" class="f" style="fill:#95afd8;"/>
<path d="M775 610C777.5 600 790 597.5 795 605L800 615L790 620L780 617.5Z" class="fd"/>
<ellipse cx="785" cy="612" rx="4.5" ry="3.5" class="fl"/>
<path d="M795 630L805 625L817.5 637.5L812.5 650L800 655Z" class="fd"/>
<ellipse cx="807.5" cy="651.2" rx="4" ry="3.2" class="fl"/>
<path d="M788.8 650L800 655L810 673.8" class="l"/>
<path d="M782.5 637.5L795 630" class="l"/>
<path d="M800 620L805 625" class="l"/>
<path d="M825 660L815 650" class="l"/>
<path d="M791.2 670L800 660" class="l"/>
<path d="M807.5 651.2L813.8 640L825 642.5L832.5 647.5" fill="none" stroke="#fff" stroke-width="1.6"/>
</g>
<g id="arrow">
<path d="M728 722L728 726.5L662 765.8L657.5 763.8Z" fill="#000"/>
<path d="M670.8 773L672 777.5L601.8 780.5L601.8 776.2Z" fill="#000"/>
<path d="M657.5 763.8L662 765.8L672 777.5L670.8 773Z" fill="#000"/>
<path d="M694.5 703.2L728 722L657.5 763.8L670.8 773L601.8 776.2L608.8 736.8L622.5 744.5Z" fill="#fff" stroke="#000" stroke-width="1" stroke-linejoin="miter"/>
</g>
<g id="smallparts">
<path d="M294.7 73.6L276.0 103.6" stroke="#101a33" stroke-width="8.2" stroke-linecap="round" fill="none"/>
<path d="M294.7 73.6L276.0 103.6" stroke="#a5bde0" stroke-width="6.5" stroke-linecap="round" fill="none"/>
<path d="M299.5 66.0L294.7 73.6" stroke="#101a33" stroke-width="12.2" stroke-linecap="butt" fill="none"/>
<path d="M299.5 66.0L294.7 73.6" stroke="#a5bde0" stroke-width="10.5" stroke-linecap="butt" fill="none"/>
<ellipse cx="299.5" cy="66.0" rx="3.4" ry="5.2" transform="rotate(122.0 299.5 66.0)" class="fl"/>
<ellipse cx="299.5" cy="66.0" rx="1.7" ry="2.6" transform="rotate(122.0 299.5 66.0)" class="fd"/>
<path d="M284 90L289 93" class="l"/>
<ellipse cx="267.5" cy="113" rx="6" ry="4.5" transform="rotate(20 267.5 113)" fill="#7089b5" stroke="#101a33" stroke-width="1.6"/>
<ellipse cx="267.5" cy="113" rx="2.7" ry="2" transform="rotate(20 267.5 113)" fill="#fff" stroke="#101a33" stroke-width=".7"/>
<path d="M252.0 138.0L244.0 150.0" stroke="#101a33" stroke-width="9.7" stroke-linecap="round" fill="none"/>
<path d="M252.0 138.0L244.0 150.0" stroke="#a5bde0" stroke-width="8.0" stroke-linecap="round" fill="none"/>
<path d="M246.5 131L252 141L258 139L265.5 131Z" class="f"/>
<ellipse cx="256" cy="131" rx="9.5" ry="7.5" transform="rotate(20 256 131)" class="f"/>
<ellipse cx="256.5" cy="131" rx="4" ry="3.2" transform="rotate(20 256.5 131)" class="fd"/>
<path d="M229.5 169.0L226.0 175.0" stroke="#101a33" stroke-width="10.7" stroke-linecap="round" fill="none"/>
<path d="M229.5 169.0L226.0 175.0" stroke="#a5bde0" stroke-width="9.0" stroke-linecap="round" fill="none"/>
<ellipse cx="232.5" cy="164" rx="10" ry="7.8" transform="rotate(20 232.5 164)" class="f"/>
<ellipse cx="233" cy="164" rx="5" ry="3.8" transform="rotate(20 233 164)" class="fl"/>
<path d="M223 166C225 172 236 175 242 167" class="l"/>
<path d="M225.1 411.2L221.0 416.5" stroke="#101a33" stroke-width="4.7" stroke-linecap="round" fill="none"/>
<path d="M225.1 411.2L221.0 416.5" stroke="#a5bde0" stroke-width="3.0" stroke-linecap="round" fill="none"/>
<path d="M227.5 408.0L225.1 411.2" stroke="#101a33" stroke-width="6.7" stroke-linecap="butt" fill="none"/>
<path d="M227.5 408.0L225.1 411.2" stroke="#a5bde0" stroke-width="5.0" stroke-linecap="butt" fill="none"/>
<ellipse cx="227.5" cy="408.0" rx="1.6" ry="2.5" transform="rotate(127.4 227.5 408.0)" class="fl"/>
<ellipse cx="227.5" cy="408.0" rx="0.8" ry="1.2" transform="rotate(127.4 227.5 408.0)" class="fd"/>
<ellipse cx="218" cy="419.5" rx="3.6" ry="2.4" transform="rotate(20 218 419.5)" fill="none" stroke="#101a33" stroke-width="1.5"/>
<path d="M187.1 457.9L178.0 471.0" stroke="#101a33" stroke-width="5.7" stroke-linecap="round" fill="none"/>
<path d="M187.1 457.9L178.0 471.0" stroke="#a5bde0" stroke-width="4.0" stroke-linecap="round" fill="none"/>
<path d="M190.5 453.0L187.1 457.9" stroke="#101a33" stroke-width="8.7" stroke-linecap="butt" fill="none"/>
<path d="M190.5 453.0L187.1 457.9" stroke="#a5bde0" stroke-width="7.0" stroke-linecap="butt" fill="none"/>
<ellipse cx="190.5" cy="453.0" rx="2.2" ry="3.5" transform="rotate(124.8 190.5 453.0)" class="fl"/>
<ellipse cx="190.5" cy="453.0" rx="1.1" ry="1.8" transform="rotate(124.8 190.5 453.0)" class="fd"/>
<ellipse cx="172.5" cy="475" rx="4.6" ry="3.2" transform="rotate(20 172.5 475)" fill="none" stroke="#101a33" stroke-width="1.8"/>
<path d="M496.1 451.5L488.0 463.5" stroke="#101a33" stroke-width="5.7" stroke-linecap="round" fill="none"/>
<path d="M496.1 451.5L488.0 463.5" stroke="#a5bde0" stroke-width="4.0" stroke-linecap="round" fill="none"/>
<path d="M499.5 446.5L496.1 451.5" stroke="#101a33" stroke-width="8.7" stroke-linecap="butt" fill="none"/>
<path d="M499.5 446.5L496.1 451.5" stroke="#a5bde0" stroke-width="7.0" stroke-linecap="butt" fill="none"/>
<ellipse cx="499.5" cy="446.5" rx="2.2" ry="3.5" transform="rotate(124.1 499.5 446.5)" class="fl"/>
<ellipse cx="499.5" cy="446.5" rx="1.1" ry="1.8" transform="rotate(124.1 499.5 446.5)" class="fd"/>
<ellipse cx="483.8" cy="470" rx="4.6" ry="3.2" transform="rotate(20 483.8 470)" fill="none" stroke="#101a33" stroke-width="1.8"/>
<path d="M938.2 646.1L928.0 658.5" stroke="#101a33" stroke-width="5.7" stroke-linecap="round" fill="none"/>
<path d="M938.2 646.1L928.0 658.5" stroke="#b9bfae" stroke-width="4.0" stroke-linecap="round" fill="none"/>
<path d="M935.6 646.1L938.7 648.6" stroke="#555c66" stroke-width=".5"/>
<path d="M934.6 647.3L937.7 649.9" stroke="#555c66" stroke-width=".5"/>
<path d="M933.6 648.6L936.7 651.1" stroke="#555c66" stroke-width=".5"/>
<path d="M932.6 649.8L935.7 652.3" stroke="#555c66" stroke-width=".5"/>
<path d="M931.6 651.0L934.6 653.6" stroke="#555c66" stroke-width=".5"/>
<path d="M930.5 652.3L933.6 654.8" stroke="#555c66" stroke-width=".5"/>
<path d="M929.5 653.5L932.6 656.0" stroke="#555c66" stroke-width=".5"/>
<path d="M928.5 654.7L931.6 657.3" stroke="#555c66" stroke-width=".5"/>
<path d="M927.5 656.0L930.6 658.5" stroke="#555c66" stroke-width=".5"/>
<path d="M942.0 641.5L938.2 646.1" stroke="#101a33" stroke-width="8.2" stroke-linecap="butt" fill="none"/>
<path d="M942.0 641.5L938.2 646.1" stroke="#a5bde0" stroke-width="6.5" stroke-linecap="butt" fill="none"/>
<ellipse cx="942.0" cy="641.5" rx="2.1" ry="3.2" transform="rotate(129.5 942.0 641.5)" class="fl"/>
<ellipse cx="942.0" cy="641.5" rx="1.0" ry="1.6" transform="rotate(129.5 942.0 641.5)" class="fd"/>
<ellipse cx="924.5" cy="663.8" rx="4.4" ry="3.2" transform="rotate(20 924.5 663.8)" fill="none" stroke="#101a33" stroke-width="1.8"/>
<path d="M737.8 372.6L722.5 378.6" stroke="#101a33" stroke-width="6.2" stroke-linecap="round" fill="none"/>
<path d="M737.8 372.6L722.5 378.6" stroke="#b9bfae" stroke-width="4.5" stroke-linecap="round" fill="none"/>
<path d="M735.5 371.1L737.2 375.3" stroke="#555c66" stroke-width=".5"/>
<path d="M734.0 371.7L735.7 375.9" stroke="#555c66" stroke-width=".5"/>
<path d="M732.6 372.3L734.2 376.5" stroke="#555c66" stroke-width=".5"/>
<path d="M731.1 372.8L732.7 377.0" stroke="#555c66" stroke-width=".5"/>
<path d="M729.6 373.4L731.2 377.6" stroke="#555c66" stroke-width=".5"/>
<path d="M728.1 374.0L729.7 378.2" stroke="#555c66" stroke-width=".5"/>
<path d="M726.6 374.6L728.2 378.8" stroke="#555c66" stroke-width=".5"/>
<path d="M725.1 375.2L726.7 379.4" stroke="#555c66" stroke-width=".5"/>
<path d="M723.6 375.8L725.2 379.9" stroke="#555c66" stroke-width=".5"/>
<path d="M742.5 370.8L737.8 372.6" stroke="#101a33" stroke-width="9.2" stroke-linecap="butt" fill="none"/>
<path d="M742.5 370.8L737.8 372.6" stroke="#a5bde0" stroke-width="7.5" stroke-linecap="butt" fill="none"/>
<ellipse cx="742.5" cy="370.8" rx="2.4" ry="3.8" transform="rotate(158.7 742.5 370.8)" class="fl"/>
<ellipse cx="742.5" cy="370.8" rx="1.2" ry="1.9" transform="rotate(158.7 742.5 370.8)" class="fd"/>
<path d="M657.0 402.8L675.0 396.8" stroke="#101a33" stroke-width="8.2" stroke-linecap="butt" fill="none"/>
<path d="M657.0 402.8L675.0 396.8" stroke="#b4bdc6" stroke-width="6.5" stroke-linecap="butt" fill="none"/>
<path d="M653.8 403.8L657.0 402.8" stroke="#101a33" stroke-width="5.7" stroke-linecap="round" fill="none"/>
<path d="M653.8 403.8L657.0 402.8" stroke="#cfcf9c" stroke-width="4.0" stroke-linecap="round" fill="none"/>
<path class="ld" d="M676 396.2L697 387.5M702 385.7L722 378.8" stroke-width=".7"/>
<g transform="translate(525 531) rotate(-15)"><rect x="-5.0" y="-4.5" width="10.0" height="9.0" rx="2.7" class="f"/><ellipse cx="-2.3" cy="0" rx="2.7" ry="4.5" class="fl"/></g>
<g transform="translate(561 539.5) rotate(-15)"><rect x="-6.0" y="-4.5" width="12.0" height="9.0" rx="2.7" class="f"/><ellipse cx="-3.3" cy="0" rx="2.7" ry="4.5" class="fl"/></g>
<g transform="translate(576 555) rotate(-15)"><rect x="-8.5" y="-7.5" width="17.0" height="15.0" rx="4.5" class="f"/><ellipse cx="-4.0" cy="0" rx="4.5" ry="7.5" class="fl"/></g>
<path d="M259.5 470.0L217.0 524.5" stroke="#fff" stroke-width="24.5" stroke-linecap="round" fill="none"/>
<path d="M270.0 455.0L259.5 470.0" stroke="#fff" stroke-width="16" stroke-linecap="round" fill="none"/>
<path d="M230.3 512.0L217.0 524.5" stroke="#101a33" stroke-width="16.7" stroke-linecap="round" fill="none"/>
<path d="M230.3 512.0L217.0 524.5" stroke="#3a4a72" stroke-width="15.0" stroke-linecap="round" fill="none"/>
<path d="M223.2 509.1L232.8 519.3" stroke="#a5bde0" stroke-width="1"/>
<path d="M220.8 511.3L230.4 521.5" stroke="#a5bde0" stroke-width="1"/>
<path d="M218.5 513.5L228.1 523.7" stroke="#a5bde0" stroke-width="1"/>
<path d="M216.2 515.7L225.8 525.9" stroke="#a5bde0" stroke-width="1"/>
<path d="M213.8 517.9L223.4 528.1" stroke="#a5bde0" stroke-width="1"/>
<path d="M259.5 470.0L230.3 512.0" stroke="#101a33" stroke-width="21.7" stroke-linecap="butt" fill="none"/>
<path d="M259.5 470.0L230.3 512.0" stroke="#a5bde0" stroke-width="20.0" stroke-linecap="butt" fill="none"/>
<path d="M263.3 464.8L259.5 470.0" stroke="#101a33" stroke-width="15.7" stroke-linecap="butt" fill="none"/>
<path d="M263.3 464.8L259.5 470.0" stroke="#8ea9d1" stroke-width="14.0" stroke-linecap="butt" fill="none"/>
<path d="M270.0 455.0L263.3 464.8" stroke="#101a33" stroke-width="13.7" stroke-linecap="round" fill="none"/>
<path d="M270.0 455.0L263.3 464.8" stroke="#a5bde0" stroke-width="12.0" stroke-linecap="round" fill="none"/>
<path d="M249.1 467.8L262.8 482.3" stroke="#101a33" stroke-width="1.1"/>
<path d="M238.1 483.7L251.7 498.3" stroke="#101a33" stroke-width="1.1"/>
<path d="M235.7 487.1L249.4 501.6" stroke="#101a33" stroke-width="1.1"/>
<path d="M260.1 475.0L235.2 512.9" stroke="#c9d8f0" stroke-width="4" stroke-linecap="round"/>
<path d="M216 487C214 484 218 480 221 483L226 497L221 500Z" class="f"/>
<path d="M273.8 491.8L228.5 544.0" stroke="#fff" stroke-width="24.5" stroke-linecap="round" fill="none"/>
<path d="M283.5 477.0L273.8 491.8" stroke="#fff" stroke-width="16" stroke-linecap="round" fill="none"/>
<path d="M243.0 533.0L228.5 544.0" stroke="#101a33" stroke-width="16.7" stroke-linecap="round" fill="none"/>
<path d="M243.0 533.0L228.5 544.0" stroke="#3a4a72" stroke-width="15.0" stroke-linecap="round" fill="none"/>
<path d="M236.2 529.4L244.7 540.5" stroke="#a5bde0" stroke-width="1"/>
<path d="M233.7 531.3L242.1 542.4" stroke="#a5bde0" stroke-width="1"/>
<path d="M231.1 533.2L239.6 544.4" stroke="#a5bde0" stroke-width="1"/>
<path d="M228.6 535.2L237.0 546.3" stroke="#a5bde0" stroke-width="1"/>
<path d="M226.0 537.1L234.5 548.2" stroke="#a5bde0" stroke-width="1"/>
<path d="M273.8 491.8L243.0 533.0" stroke="#101a33" stroke-width="21.7" stroke-linecap="butt" fill="none"/>
<path d="M273.8 491.8L243.0 533.0" stroke="#a5bde0" stroke-width="20.0" stroke-linecap="butt" fill="none"/>
<path d="M276.8 487.3L273.8 491.8" stroke="#101a33" stroke-width="15.7" stroke-linecap="butt" fill="none"/>
<path d="M276.8 487.3L273.8 491.8" stroke="#8ea9d1" stroke-width="14.0" stroke-linecap="butt" fill="none"/>
<path d="M283.5 477.0L276.8 487.3" stroke="#101a33" stroke-width="13.7" stroke-linecap="round" fill="none"/>
<path d="M283.5 477.0L276.8 487.3" stroke="#a5bde0" stroke-width="12.0" stroke-linecap="round" fill="none"/>
<path d="M264.1 488.8L276.1 504.7" stroke="#101a33" stroke-width="1.1"/>
<path d="M252.4 504.4L264.4 520.4" stroke="#101a33" stroke-width="1.1"/>
<path d="M249.9 507.7L262.0 523.7" stroke="#101a33" stroke-width="1.1"/>
<path d="M273.8 496.8L247.8 534.4" stroke="#c9d8f0" stroke-width="4" stroke-linecap="round"/>
<path d="M243 536C246 534 251 536 250 541L246 547L240 544Z" class="f"/>
</g>
<g id="labels">
<path class="ld" d="M141.5 47.5L280 86.7"/>
<path class="ld" d="M141.5 87.5L261 110"/>
<path class="ld" d="M141.5 127.5L226 155"/>
<path class="ld" d="M132 172.5L186 249.5"/>
<path class="ld" d="M337.5 82.5L267 133.5"/>
<path class="ld" d="M388.75 82L368.75 170"/>
<path class="ld" d="M440 82L441 156"/>
<path class="ld" d="M637 20.5L618.75 82"/>
<path class="ld" d="M687 20.5L669.5 81"/>
<path class="ld" d="M737.5 20.5L722.5 63.75"/>
<path class="ld" d="M115 330L222.5 411"/>
<path class="ld" d="M115 371L215 418.75"/>
<path class="ld" d="M116 411L183.75 453.75"/>
<path class="ld" d="M116 411L168 472.5"/>
<path class="ld" d="M105 457.5L151.25 490"/>
<path class="ld" d="M255 442.5L268.75 453.75"/>
<path class="ld" d="M255 442.5L275 477.5"/>
<path class="ld" d="M350 463.75L328.75 541"/>
<path class="ld" d="M388.75 463.75L348.75 518.75"/>
<path class="ld" d="M427 463.75L408.75 498.75"/>
<path class="ld" d="M553 461L502.5 446"/>
<path class="ld" d="M553 461L487.5 471"/>
<path class="ld" d="M550 498.75L482.5 507.5"/>
<path class="ld" d="M612 520.5L530 530"/>
<path class="ld" d="M612 520.5L567 536"/>
<path class="ld" d="M612 520.5L582.5 551"/>
<path class="ld" d="M711 525L691 600"/>
<path class="ld" d="M717 317.5L740.5 370"/>
<path class="ld" d="M768.75 317.5L796 365"/>
<path class="ld" d="M579.5 424L653.75 405"/>
<path class="ld" d="M977 615.5L918 599"/>
<path class="ld" d="M980 658L939.5 651.25"/>
<path class="ld" d="M980 696.25L928.75 667.5"/>
<path class="ld" d="M439 728.5L416.6 721.6"/>
<path class="ld" d="M439.5 769.7L336.4 761.5"/>
<path class="wl" d="M103 492L183.75 562.5"/>
<path class="ld" d="M62.5 457.5L183.75 562.5"/>
<path class="wl" d="M312 472L283.75 570"/>
<path class="ld" d="M315 462.5L283.75 570"/>
<path d="M178.75 575L165 595" stroke="#fff" stroke-width="1.6" fill="none"/>
<path d="M483 471L463.75 498.75" stroke="#fff" stroke-width="1.6" fill="none"/>
<path class="ld" d="M625 99L640.5 121L590 130.5L599 145" stroke-dasharray="14 3"/>
<path class="ld" d="M212.5 425L211 429L236 473.75L222.5 495" stroke-dasharray="12 3 3 3"/>
<path class="ld" d="M921.25 668.75L905 692L832.5 647.5" stroke-dasharray="12 3 3 3"/>
<text class="t" x="121.75" y="48">22</text>
<text class="t" x="121.75" y="88.5">24</text>
<text class="t" x="121.75" y="128.25">21</text>
<text class="t" x="122.5" y="167.5">18</text>
<text class="t" x="330" y="78">20</text>
<text class="t" x="381.25" y="78">16</text>
<text class="t" x="432" y="78">15</text>
<text class="t" x="629.5" y="16.5">17</text>
<text class="t" x="678.25" y="16.5">29</text>
<text class="t" x="729" y="16.5">30</text>
<text class="t" x="96.25" y="331.75">13</text>
<text class="t" x="96.25" y="371.75">14</text>
<text class="tr" transform="translate(85 411) scale(1.36 1.08)" x="-1" y="-1.4">▲</text>
<text class="t" x="100" y="411">6</text>
<text class="t" x="53" y="453">26</text>
<text class="tr" transform="translate(97.5 453) scale(1.36 1.08)" x="-1" y="-1.4">▲</text>
<text class="t" x="242" y="439.25">12</text>
<text class="tr" transform="translate(297 459.5) scale(1.36 1.08)" x="-1" y="-1.4">▲</text>
<text class="t" x="310.75" y="459.5">4</text>
<text class="t" x="348" y="459.5">3</text>
<text class="t" x="384.25" y="459.5">2</text>
<text class="t" x="418.75" y="459.5">19</text>
<text class="t" x="554.5" y="465.5">7</text>
<text class="tr" transform="translate(563 465.5) scale(1.36 1.08)" x="-1" y="-1.4">▲</text>
<text class="tr" transform="translate(551 499) scale(1.36 1.08)" x="-1" y="-1.4">▲</text>
<text class="t" x="620" y="520.75">5</text>
<text class="tr" transform="translate(632 520.75) scale(1.36 1.08)" x="-1" y="-1.4">▲</text>
<text class="t" x="708.75" y="518">8</text>
<text class="tr" transform="translate(720 518) scale(1.36 1.08)" x="-1" y="-1.4">▲</text>
<text class="t" x="708.75" y="313.75">27</text>
<text class="t" x="759.5" y="313.75">25</text>
<text class="t" x="555" y="430.5">23</text>
<text class="tr" transform="translate(980.5 620) scale(1.36 1.08)" x="-1" y="-1.4">▲</text>
<text class="t" x="983" y="667.5">9</text>
<text class="tr" transform="translate(994.5 667.5) scale(1.36 1.08)" x="-1" y="-1.4">▲</text>
<text class="t" x="984.25" y="708">10</text>
<text class="tr" transform="translate(1003.75 708) scale(1.36 1.08)" x="-1" y="-1.4">▲</text>
<text class="t" x="445" y="738">28</text>
<text class="t" x="446.3" y="777.4">11</text>
<rect x="979.75" y="91" width="51.5" height="31.5" rx="3" fill="#fff" fill-opacity=".75" stroke="#111" stroke-width="1"/>
<text class="tr" transform="translate(983.75 113) scale(1.36 1.08)" x="-1" y="-1.4">▲</text>
<text class="t" x="1000" y="113">=</text>
<text class="t" x="1015.5" y="113">1</text>
</g>
<g id="wm_over">
<g transform="translate(240.6 762) rotate(-36)" opacity=".11"><text x="0" y="0" style="font:62px 'DejaVu Sans',sans-serif" fill="#ffff70">a passion for parts since 1985</text></g>
</g>
</svg>
</body></html>
